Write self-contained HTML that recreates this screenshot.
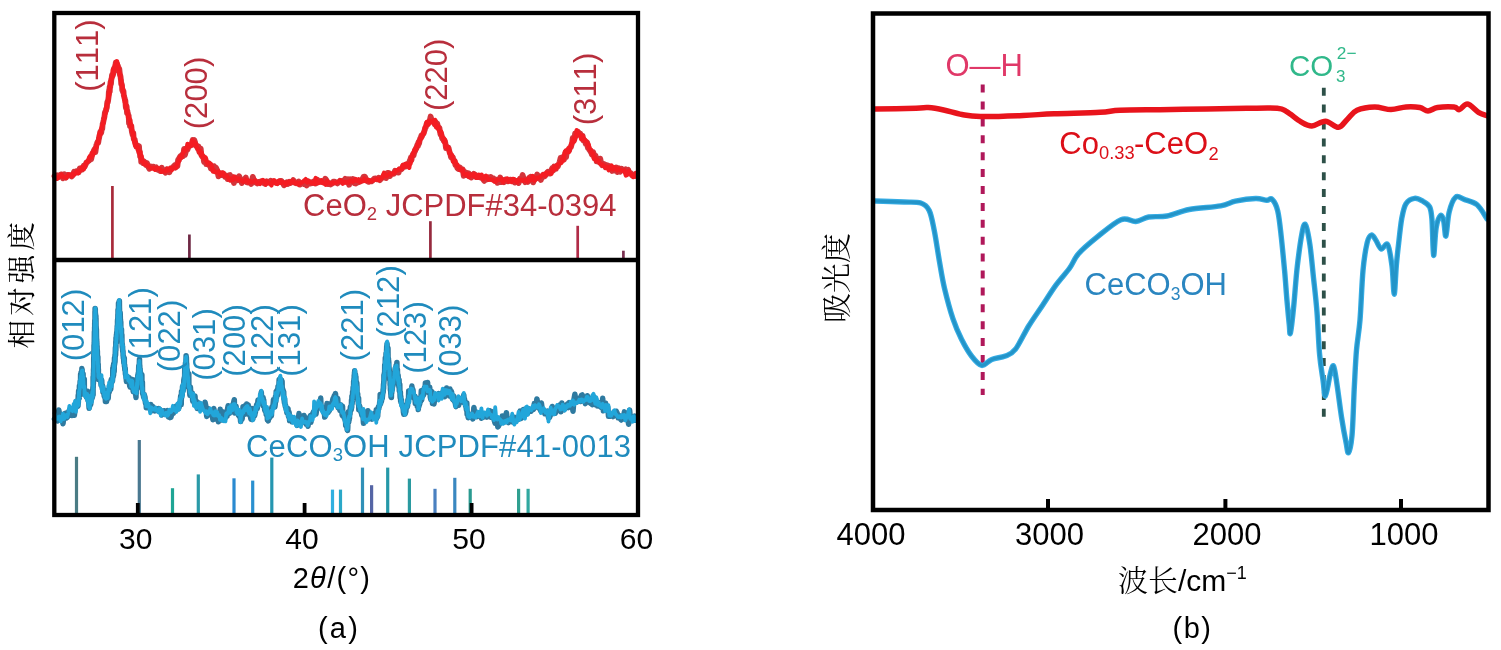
<!DOCTYPE html>
<html><head><meta charset="utf-8"><title>figure</title>
<style>html,body{margin:0;padding:0;background:#fff;width:1501px;height:650px;overflow:hidden}svg{display:block}</style>
</head><body>
<svg width="1501" height="650" viewBox="0 0 1501 650">
<rect width="1501" height="650" fill="#fff"/>
<line x1="112.4" y1="186" x2="112.4" y2="258" stroke="#a82a3a" stroke-width="2.7"/>
<line x1="189.4" y1="234.5" x2="189.4" y2="258" stroke="#6e2844" stroke-width="2.7"/>
<line x1="430.4" y1="221.2" x2="430.4" y2="258" stroke="#962a3e" stroke-width="2.7"/>
<line x1="577.7" y1="225.8" x2="577.7" y2="258" stroke="#b02c48" stroke-width="2.7"/>
<line x1="623.4" y1="250.7" x2="623.4" y2="258" stroke="#7a3050" stroke-width="2.7"/>
<line x1="76.5" y1="456.8" x2="76.5" y2="513" stroke="#4a7c84" stroke-width="3.2"/>
<line x1="139.3" y1="440" x2="139.3" y2="513" stroke="#4a7890" stroke-width="3.2"/>
<line x1="172.5" y1="488.2" x2="172.5" y2="513" stroke="#1fa595" stroke-width="3.2"/>
<line x1="198.3" y1="474.4" x2="198.3" y2="513" stroke="#2a9aa8" stroke-width="3.2"/>
<line x1="234" y1="478.3" x2="234" y2="513" stroke="#2a8ad0" stroke-width="3.2"/>
<line x1="252.7" y1="480.6" x2="252.7" y2="513" stroke="#2a90d0" stroke-width="3.2"/>
<line x1="271.8" y1="457.6" x2="271.8" y2="513" stroke="#2596b0" stroke-width="3.2"/>
<line x1="332.5" y1="489.6" x2="332.5" y2="513" stroke="#30b0e0" stroke-width="3.2"/>
<line x1="340.5" y1="489.6" x2="340.5" y2="513" stroke="#2aa8c8" stroke-width="3.2"/>
<line x1="362.5" y1="467.6" x2="362.5" y2="513" stroke="#3090b8" stroke-width="3.2"/>
<line x1="371.6" y1="485.2" x2="371.6" y2="513" stroke="#5565a5" stroke-width="3.2"/>
<line x1="387.7" y1="467.6" x2="387.7" y2="513" stroke="#2598a8" stroke-width="3.2"/>
<line x1="409.4" y1="478.6" x2="409.4" y2="513" stroke="#2a9aa0" stroke-width="3.2"/>
<line x1="435" y1="488.8" x2="435" y2="513" stroke="#4a80c0" stroke-width="3.2"/>
<line x1="454.8" y1="477.8" x2="454.8" y2="513" stroke="#3a88c0" stroke-width="3.2"/>
<line x1="470.2" y1="488.8" x2="470.2" y2="513" stroke="#2a9a90" stroke-width="3.2"/>
<line x1="518.6" y1="488.8" x2="518.6" y2="513" stroke="#30a090" stroke-width="3.2"/>
<line x1="528.1" y1="488.8" x2="528.1" y2="513" stroke="#30a8a0" stroke-width="3.2"/>
<polyline points="54.5,176.2 55.9,178.2 57.3,175.3 58.8,176.9 60.2,174.8 61.6,174.4 63,178.3 64.4,174.3 65.9,177.7 67.3,174.9 68.7,175.2 70.1,175.2 71.6,176.4 73,174.9 74.1,171.8 75.2,172.9 76.4,171.3 77.5,172.1 78.6,172.4 79.8,168.4 80.9,169.6 82,169.6 82.9,168.7 83.8,165.6 84.7,166.7 85.6,164.6 86.4,162.5 87.3,162.1 88.2,161.1 89.1,160.7 90,159 90.6,157 91.2,159.1 91.8,156.4 92.4,153.3 93,153.3 93.6,151.3 94.2,150 94.8,148.9 95.4,152.2 96,147.8 96.4,145 96.9,143.9 97.3,142.5 97.8,141.5 98.2,142.9 98.7,139.6 99.1,138 99.6,135.2 100,134.1 100.3,131.7 100.7,132.5 101,132.9 101.3,132.4 101.7,129.2 102,129.3 102.3,128.6 102.7,123.4 103,123.3 103.3,121.9 103.7,120 104,117.9 104.3,117.5 104.6,115.5 104.9,112.4 105.1,112.8 105.4,111.5 105.7,110.8 106,110.9 106.3,109.1 106.6,108.4 106.9,107.2 107.1,103.6 107.4,101.7 107.7,102.6 108,101.1 108.2,100 108.4,98.3 108.6,96.8 108.8,92 109,94.1 109.2,89.8 109.4,92.6 109.6,87.1 109.8,91.5 110,85.9 110.2,87.6 110.4,83.5 110.6,81.9 110.8,81.3 111,84.1 111.3,79.5 111.7,78.1 112,75 112.3,75.4 112.7,75.6 113,73.3 113.3,74 113.7,69.4 114,68.4 114.6,68.1 115.2,67.5 115.8,62.4 116.4,65.3 117,63.5 117.3,65.8 117.7,66.7 118,66 118.3,69.5 118.7,71 119,70.1 119.3,68.8 119.7,72.5 120,75.4 120.2,75.1 120.5,76.4 120.8,79.1 121,80.1 121.2,83.9 121.5,83.6 121.8,84.4 122,85.4 122.2,89.8 122.5,88.8 122.8,91.7 123,91.6 123.3,90.8 123.5,91.4 123.8,95.5 124.1,95.7 124.3,97.5 124.6,98.1 124.9,99.7 125.1,99.9 125.4,100.9 125.7,106 125.9,107.9 126.2,106 126.5,106 126.7,107.3 127,112.9 127.3,110.5 127.7,113.1 128,114.2 128.3,114.8 128.7,115.8 129,123.1 129.3,119.8 129.7,120.3 130,126 130.3,125.7 130.7,126.5 131,126.6 131.3,125.7 131.7,130.3 132,132.2 132.3,133.4 132.7,135.1 133,133.7 133.3,133 133.7,138.6 134,139.5 134.3,140 134.7,139.5 135,141.8 135.7,143.9 136.3,146.5 137,146.4 137.7,146.4 138.3,149.4 139,146 139.4,152.2 139.8,151.3 140.1,156.3 140.5,155.8 140.9,156.7 141.2,161.8 141.6,158.8 142,162.1 143,163 144,161.4 145,163.7 146,165 147,163 148,166.3 149.4,168.7 150.9,166.4 152.3,166.9 153.6,166.7 155,168.2 156.3,167.4 157.7,169.8 159,170.2 160.3,171 161.7,167.7 163,170.5 164.3,170.9 165.6,172.7 166.9,169.3 168.2,170.7 169.4,172.2 170.7,168.7 172,168.2 173.3,166.8 174.6,165.3 175.3,167.7 176,165.2 176.7,163.9 177.4,166.3 178.1,159.7 178.7,160.7 179.4,157.7 180.1,156.6 180.8,157.5 181.5,155.2 182.4,154.5 183.2,156.2 184.1,148.8 184.9,154.9 185.8,151.8 186.7,148.5 187.5,149.6 188.4,146.8 189.2,145.9 190.1,145.7 190.9,145.5 191.8,143.3 192.7,140 193.5,141.7 194.2,139.9 194.9,141.7 195.7,145.6 196.4,146.1 197.1,145.7 197.8,148.5 198.6,146.5 199.3,152 200,149.9 200.7,148.6 201.4,155.1 202.1,156.4 202.8,156.2 203.4,157.7 204.1,162 204.8,158.5 205.5,159.1 206.2,164 206.9,163 207.9,164.3 208.9,165 209.9,164.1 210.9,168.5 212,168.9 213,169.7 214,166.1 215,170.8 216,167.8 217.3,170.5 218.5,176.4 219.8,174.6 221.1,175 222.4,173.3 223.6,173.7 224.9,176.7 226.2,175.9 227.5,179 228.7,175.3 230,175 231.3,178.3 232.6,177 233.9,183 235.3,177.5 236.6,177.7 237.9,180.2 239.2,176.3 240.5,179.5 241.8,183 243.1,180.1 244.5,179.6 245.8,177.5 247.1,182.4 248.4,182.6 249.8,181.5 251.3,183.9 252.8,176.9 254.2,181.2 255.7,182.5 257.1,183.4 258.6,181.8 260,182 261.3,181.1 262.7,182.2 264,183.3 265.3,184 266.7,181.3 268,182.6 269.3,182.3 270.7,180.7 272,181.9 273.3,181.1 274.7,181.7 276,182.9 277.3,183 278.7,182.2 280,180.8 281.3,180.8 282.7,182.5 284,185.3 285.3,183.9 286.7,182.4 288,183.9 289.3,181.7 290.7,182.9 292,182 293.3,180.1 294.7,182.6 296,183.3 297.3,182.8 298.7,181.5 300,184.6 301.3,183.2 302.7,183.4 304,184 305.3,183.9 306.7,185.4 308,181.1 309.3,181.9 310.7,183.5 312,183.2 313.3,181.6 314.7,181.3 316,183.4 317.3,179.8 318.7,181.3 320,181.4 321.3,181.9 322.7,182.2 324,182.6 325.3,178.7 326.7,180.7 328,184 329.3,183 330.7,184.4 332,183.5 333.3,181.7 334.7,181.7 336,182.3 337.3,183.4 338.7,182.4 340,180.8 341.3,181.4 342.6,180.6 343.9,181.2 345.2,178.8 346.5,180.5 347.8,179.4 349.1,184.7 350.4,179.3 351.7,181 353,179 354.3,183.1 355.7,183.5 357,182 358.3,182.3 359.6,181.8 360.9,181.2 362.2,179.6 363.5,176.9 364.8,176.6 366.1,179.3 367.4,181.2 368.7,181.9 370,181 371.4,181.4 372.9,180.2 374.3,178.5 375.7,178.3 377.1,179.3 378.6,177.8 380,180.1 381.2,178 382.5,177.9 383.8,175.5 385,177.5 386.2,178 387.5,172.9 388.8,172.9 390,176.1 391.2,174.1 392.5,173.8 393.8,173.8 395,170.7 396.2,171.1 397.4,172.5 398.6,172.7 399.7,169.3 400.9,169.6 402.1,168.5 403.3,165.5 404.5,166.7 405.6,166.6 406.8,164.2 408,165.1 409.2,163.5 409.7,160.8 410.3,160.9 410.8,157.8 411.4,160.2 411.9,157.5 412.5,155.3 413,154.1 413.6,155.3 414.1,152.9 414.7,151.7 415.2,150.8 415.8,148.4 416.3,148.6 416.9,146.1 417.4,144.6 418,146 418.5,141.8 419.1,143.6 419.6,140.8 420.2,138.4 420.7,138.2 421.3,135.8 421.9,136.3 422.4,135.1 423,134 423.6,133.5 424.1,131.7 424.7,130.1 425.2,127.8 425.8,127.3 426.6,123.8 427.4,124.7 428.2,122.8 429,121.5 429.8,120.3 430.6,116.5 431.4,119.3 432.2,120.4 433,121.2 433.9,122 434.7,124.3 435.5,121.9 436.3,126 437.2,123.5 438,126.9 438.8,128.8 439.4,127.7 439.9,131.1 440.5,134.6 441,133.2 441.6,135.3 442.1,138.4 442.7,139 443.2,138.4 443.8,141.1 444.3,141.4 444.9,141.1 445.4,143.4 446,148.2 446.6,146.5 447.3,148.4 447.9,148 448.5,147.8 449.1,150.3 449.8,153.1 450.4,154.2 451,157.3 451.6,155.6 452.3,157.6 452.9,157.4 453.5,161.1 454.1,161.4 454.8,161.1 455.4,165.1 456.3,164.7 457.2,167.8 458.2,169 459.1,168.4 460,167.5 460.9,168.9 461.8,170 462.8,169.6 463.7,175.8 464.6,173.9 465.9,172.5 467.2,175.3 468.5,173.2 469.9,174.8 471.2,177.6 472.5,176.4 473.8,173.8 475.1,174.7 476.4,177.1 477.7,177 479.1,176.5 480.4,177.5 481.7,177.5 483,179 484.3,180.9 485.6,179.5 487,179.3 488.3,177.3 489.6,178.7 490.9,177 492.2,179.3 493.6,178.6 494.9,180.6 496.2,179.7 497.5,182.8 498.9,181.3 500.2,177.5 501.5,182.1 502.8,179.9 504.1,182.1 505.5,179.5 506.8,180.7 508.1,181.3 509.4,179.9 510.8,179.6 512.1,180.7 513.4,181.1 514.7,182.5 516,181.2 517.4,180.7 518.7,183 520,178.7 521.3,179.2 522.6,175.1 524,179.3 525.3,182.2 526.6,180 527.9,181.9 529.2,177.9 530.6,176.8 531.9,178.2 533.2,182.4 534.5,178.6 535.9,178.4 537.2,174.5 538.5,178.3 539.7,177.9 540.8,180 542,176.6 543.2,174.8 544.4,176.5 545.5,175.3 546.7,173.9 547.9,171.7 549.1,173.4 550.2,173.6 551.4,169.8 552.3,168.1 553.2,170.6 554.2,166.5 555.1,168.7 556,168.8 557,165.7 557.9,166.3 558.8,164 559.7,161.7 560.6,157.9 561.6,160.1 562.5,157.3 563.2,157.6 564,159.5 564.7,156.9 565.4,152.5 566.1,157.2 566.9,150.8 567.6,151.6 568.3,151 569.1,150.5 569.8,147.8 570.4,147.6 571,146.9 571.6,144.4 572.1,143 572.7,138 573.3,140.8 573.9,138.8 574.5,139.3 575.1,133.4 575.7,136.5 576.2,134.8 576.8,134.9 577.4,133.9 578,131.9 578.8,132.8 579.5,133.6 580.3,133.7 581.1,136 581.9,138.6 582.6,135.8 583.4,140.6 584.2,139.9 585,140.9 585.7,143.7 586.5,142 587.2,142.4 587.8,147.7 588.5,147.3 589.2,149.6 589.8,149.9 590.5,151.5 591.1,151.2 591.8,154.5 592.5,154.8 593.1,152 593.8,153.9 594.7,158.3 595.6,155.7 596.6,161.4 597.5,159.6 598.4,161.8 599.3,162.3 600.2,158.6 601.2,163.4 602.1,165.2 603,163.8 604.3,164.3 605.6,167.3 607,165.1 608.3,165.6 609.6,168.5 610.9,167.9 612.2,170.9 613.6,169.2 614.9,170.4 616.2,167.4 617.5,172 618.9,168.3 620.2,171.7 621.5,168.7 622.8,170.4 624.1,170.3 625.5,169.3 626.8,170.7 628.1,169.7 629.4,172.8 630.7,173.1 632,175.3 633.4,174.9 634.7,174.5 636,175.9" fill="none" stroke="#d4343a" stroke-width="5.8" stroke-linejoin="round" stroke-linecap="round"/>
<polyline points="54.5,176 55.9,178 57.3,178.7 58.8,177.1 60.2,176 61.6,174.6 63,176.9 64.4,177 65.9,178 67.3,176.3 68.7,174.5 70.1,174.6 71.6,176.2 73,173.8 74.3,174.4 75.6,172.8 76.9,171.5 78.1,173.2 79.4,171.4 80.7,170.1 82,167.4 82.9,168.8 83.8,169 84.7,166.1 85.6,163.9 86.4,162.3 87.3,162 88.2,160.6 89.1,157.6 90,156.1 90.7,156.1 91.3,157.1 92,153.2 92.7,155.2 93.3,151.4 94,152.9 94.7,149.4 95.3,148 96,146.7 96.4,147.2 96.9,145.1 97.3,142.8 97.8,142.5 98.2,140.6 98.7,139.2 99.1,134.8 99.6,133.4 100,132.3 100.4,134.8 100.7,132.3 101.1,130 101.5,128.4 101.8,127 102.2,125.5 102.5,125.4 102.9,124.4 103.3,123.5 103.6,119.9 104,119.3 104.3,118.7 104.6,116 104.9,114.1 105.2,113.5 105.5,113.6 105.8,108.5 106.2,107.1 106.5,106.3 106.8,107.5 107.1,104 107.4,103.1 107.7,102.1 108,100.9 108.2,100.5 108.4,95.3 108.6,97 108.9,94 109.1,92.6 109.3,95.4 109.5,90.5 109.7,89.1 109.9,87.3 110.1,87.4 110.4,85 110.6,83.1 110.8,81.6 111,78.8 111.4,79.3 111.8,78.3 112.1,77.4 112.5,76.9 112.9,69.9 113.2,75 113.6,70.9 114,70.4 114.8,65.3 115.5,66 116.2,62.4 117,61.3 117.4,66.1 117.8,63.9 118.1,67.6 118.5,67.6 118.9,72.3 119.2,71.7 119.6,73.4 120,73.8 120.3,76.2 120.5,78.6 120.8,79.4 121.1,81.2 121.4,84 121.6,83 121.9,86.2 122.2,85.9 122.5,89.1 122.7,87.9 123,90.2 123.3,91.7 123.6,92.8 123.9,96.2 124.1,97 124.4,99.2 124.7,102.1 125,101.9 125.3,101 125.6,105.6 125.9,107 126.1,104.7 126.4,107.6 126.7,109.8 127,110.7 127.4,111.3 127.7,112.9 128.1,117.9 128.5,116.1 128.8,116.7 129.2,118.3 129.5,119.1 129.9,120.7 130.3,124.5 130.6,123.3 131,126.8 131.4,125.7 131.7,130.1 132.1,130.8 132.5,131.5 132.8,134.3 133.2,133.1 133.5,136.1 133.9,139 134.3,141.7 134.6,142.9 135,145.2 135.7,141.9 136.3,147.1 137,146.3 137.7,146.8 138.3,150.5 139,152.6 139.4,153.4 139.9,154.2 140.3,152 140.7,158.4 141.1,155.4 141.6,157.3 142,161.3 143.2,161.3 144.4,164.2 145.6,163.1 146.8,165.1 148,165.3 149.4,167.2 150.9,168.2 152.3,168.6 153.6,167.8 155,169.8 156.3,168.2 157.7,168.6 159,168.4 160.3,169.5 161.7,171.8 163,171 164.4,171.2 165.9,171.4 167.3,168.9 168.8,170.3 170.2,167.9 171.7,170.2 173.2,167.7 174.6,167.2 175.4,166.3 176.1,167.6 176.9,164.4 177.7,163.8 178.4,161.3 179.2,160.8 180,157.2 180.7,156.4 181.5,157.3 182.4,154.3 183.2,153.2 184.1,150.3 184.9,151.3 185.8,148.7 186.7,149 187.5,144 188.4,147.3 189.4,144.5 190.4,146.1 191.5,145.6 192.5,140.5 193.5,142.4 194.3,142 195.1,144.4 195.9,143.8 196.8,147.4 197.6,148.2 198.4,149.7 199.2,151.7 200,150.8 200.8,154.8 201.5,152.8 202.3,155.2 203.1,158.3 203.8,157.2 204.6,158.6 205.4,157.3 206.1,160.5 206.9,162.5 207.9,164.3 208.9,162.5 209.9,165 210.9,164.4 212,167.3 213,171.5 214,170.4 215,172 216,171.9 217.4,172.6 218.8,171.5 220.2,175.2 221.6,172.9 223,172.7 224.4,176 225.8,175.6 227.2,176.3 228.6,178.6 230,180.4 231.4,178.5 232.8,179.9 234.2,176.8 235.7,178.2 237.1,179.4 238.5,178.5 239.9,180 241.3,180.4 242.7,181.8 244.2,181.6 245.6,179.4 247,180.5 248.4,182.5 249.8,181 251.3,182.3 252.8,181.9 254.2,181.1 255.7,180.6 257.1,183.1 258.6,182.7 260,183.9 261.4,181.1 262.9,180.1 264.3,181.2 265.7,184.4 267.1,181.5 268.6,183 270,183.3 271.4,185.4 272.9,180.8 274.3,180.4 275.7,183.2 277.1,183.9 278.6,180.9 280,181.1 281.4,182.9 282.9,181.9 284.3,183 285.7,184.7 287.1,182.4 288.6,181.8 290,183.1 291.4,181.3 292.9,180.8 294.3,183 295.7,183.4 297.1,182.6 298.6,184.6 300,182.6 301.4,182.8 302.9,181.7 304.3,180.6 305.7,179.2 307.1,182.4 308.6,181.3 310,182 311.4,183 312.9,182.7 314.3,183.8 315.7,178.1 317.1,183 318.6,183 320,182.5 321.4,180.2 322.9,183 324.3,183.2 325.7,184.7 327.1,181 328.6,182.8 330,183.3 331.4,183.5 332.9,182.5 334.3,183.3 335.7,182.8 337.1,182.2 338.6,181.6 340,180.4 341.4,180.9 342.9,183.6 344.3,181.9 345.7,182.7 347.1,181.9 348.6,182.7 350,181.1 351.4,180.5 352.9,181.7 354.3,180.4 355.7,179 357.1,180.8 358.6,179.4 360,181.9 361.4,180.7 362.9,181.1 364.3,178.5 365.7,181 367.1,180.5 368.6,179.9 370,181.6 371.4,180.8 372.9,180.5 374.3,180 375.7,179.5 377.1,178.7 378.6,180 380,178.4 381.4,178.4 382.7,176.5 384.1,172.8 385.5,176.2 386.8,176.2 388.2,174.8 389.5,173.6 390.9,174.6 392.3,173.7 393.6,173.1 395,172.3 396.3,170.5 397.6,170.6 398.9,169 400.2,169.4 401.5,168.7 402.7,165.3 404,167 405.3,163.9 406.6,164 407.9,165.2 409.2,167.7 409.8,163.5 410.4,163.8 411.1,160.8 411.7,156.6 412.3,156.1 412.9,154.1 413.5,153.5 414.2,150.1 414.8,149.9 415.4,150.1 416,147.9 416.6,147.5 417.3,145.7 417.9,144.2 418.5,142.9 419.1,141.2 419.7,141.2 420.3,138.6 420.9,138.3 421.5,138.3 422.1,135.1 422.8,134.2 423.4,132.5 424,133.5 424.6,129 425.2,127 425.8,126.4 426.7,122.1 427.7,122.7 428.6,124.4 429.5,120.7 430.5,121.7 431.4,122.3 432.3,121.6 433.2,120.6 434.2,123.4 435.1,119.9 436,127 436.9,127.7 437.9,125.6 438.8,128 439.4,131 440,131.1 440.6,133.4 441.2,131.6 441.8,135.1 442.4,136.9 443,138.5 443.6,138.5 444.2,142.1 444.8,139.4 445.4,143.9 446,147 446.7,146.7 447.3,148.1 448,147.4 448.7,148.9 449.4,153 450,152 450.7,154.7 451.4,156.1 452,155.4 452.7,159.2 453.4,161.8 454.1,162.5 454.7,160.5 455.4,161.9 456.4,165.5 457.4,164.8 458.5,167.8 459.5,168.2 460.5,170.3 461.5,169.4 462.6,169.7 463.6,174 464.6,173.8 466,175 467.4,173.9 468.8,177 470.3,174.8 471.7,174.5 473.1,175.9 474.5,174.2 475.9,177.7 477.3,177.7 478.8,174.8 480.2,177.4 481.6,174.8 483,179.2 484.4,176.7 485.8,175.7 487.3,178.2 488.7,179.7 490.1,179.3 491.5,179.6 493,179.9 494.4,181.6 495.8,181.5 497.2,180 498.7,179.6 500.1,179.8 501.5,178.9 502.9,182.2 504.3,180.4 505.8,179.3 507.2,178.5 508.6,181.5 510,179.8 511.5,181.9 512.9,179 514.3,179.2 515.7,181.4 517.2,182.3 518.6,179.8 520,180.4 521.4,179.8 522.8,180.8 524.3,179.8 525.7,180.5 527.1,181.6 528.5,178.3 530,180.3 531.4,179.8 532.8,176 534.2,180.6 535.7,179.6 537.1,177.6 538.5,177.8 539.8,177.2 541.1,176.1 542.4,174.9 543.7,174.1 545,175.6 546.2,172.7 547.5,173.5 548.8,172.7 550.1,172.9 551.4,173.7 552.4,168.9 553.4,170 554.4,166.5 555.4,168.8 556.4,167.7 557.5,164.9 558.5,164.4 559.5,163.7 560.5,162.1 561.5,162.7 562.5,158.8 563.3,160.5 564.1,155.7 564.9,152.4 565.7,150.8 566.6,152.4 567.4,152 568.2,148.6 569,152.1 569.8,148.7 570.4,147.7 571.1,144.1 571.7,144.6 572.3,141.1 573,141.9 573.6,138.4 574.2,141.6 574.8,139.3 575.5,136.2 576.1,136.4 576.7,130.2 577.4,134.4 578,132.1 578.9,133.4 579.7,134.9 580.5,135.7 581.4,139.3 582.2,135.7 583.1,137.7 584,138.8 584.8,141 585.6,140.6 586.5,141.7 587.2,144 588,145.8 588.7,144.7 589.4,148.7 590.1,149.6 590.9,149.6 591.6,152.5 592.3,153.8 593.1,153.5 593.8,158.5 594.8,157 595.8,160.5 596.9,159.4 597.9,161.2 598.9,161 599.9,163.5 601,164 602,164.3 603,165.8 604.4,165.6 605.8,167.8 607.3,166.8 608.7,170.1 610.1,169 611.5,165.6 613,169.5 614.4,167.3 615.8,168.6 617.2,170.4 618.7,168.7 620.1,170.1 621.5,170.5 623,170.6 624.4,170.3 625.9,175.4 627.3,174.8 628.8,171 630.2,173.3 631.6,174.9 633.1,177.1 634.5,176.7 636,172.9" fill="none" stroke="#f41c22" stroke-width="4.4" stroke-linejoin="round" stroke-linecap="round"/>
<polyline points="54.5,419 55.6,420.2 56.6,417.5 57.7,420.8 58.8,410 59.8,415.7 60.9,419.7 61.9,417.2 63,423.7 63.9,416.9 64.8,413.6 65.7,413.2 66.6,418 67.5,417 68.3,412.8 69.2,410.6 70.1,409.1 71,410.1 71.9,415.5 72.8,411.2 73.7,411.3 74.4,415.2 75.1,407.9 75.8,403.3 76.6,401 77.3,405.6 78,406 78.1,401.3 78.2,395.6 78.3,403.3 78.5,398.4 78.6,391 78.7,393.9 78.8,395.7 78.9,392.6 79,393.7 79.1,390.6 79.3,397.9 79.4,386.1 79.5,392.1 79.6,387.2 79.7,391.8 79.8,390.6 79.9,386.3 80.1,381.5 80.2,382.1 80.3,384.1 80.4,382.9 80.5,382.4 80.6,374.3 80.7,379.3 80.9,377.6 81,384 81.1,372.6 81.2,375.9 81.3,381.6 81.5,375.8 81.6,373.3 81.7,374.6 81.9,368.6 82,371.3 82.1,369.2 82.2,372 82.4,372.6 82.5,377.5 82.6,375.5 82.7,374.3 82.8,376 83,375.9 83.1,373.9 83.2,383.3 83.3,385 83.4,379.8 83.5,382.4 83.7,384.8 83.8,386.4 83.9,385.2 84,386.8 84.1,384.3 84.3,379.2 84.4,391.9 84.5,394.7 84.9,391.7 85.2,393.7 85.6,395.8 85.9,393.7 86.3,397.1 86.6,396.6 87,397.3 87.3,392.2 87.7,391.3 88,400.5 88.4,400.6 88.7,401.6 89.1,408.3 89.4,407.1 89.8,405.6 90,404.6 90.2,401.4 90.4,402.7 90.7,404.6 90.9,401.8 91.1,401.7 91.3,395.2 91.5,395.7 91.7,399 91.9,398.6 92.1,396.5 92.4,397.5 92.6,390.1 92.8,389.5 93,386.5 93,390.2 93.1,394.8 93.1,391 93.1,377.1 93.1,385 93.2,387.4 93.2,385.9 93.2,384.1 93.2,380.8 93.3,381.3 93.3,380.6 93.3,381.3 93.4,377.6 93.4,383.4 93.4,376.8 93.4,373.8 93.5,372.3 93.5,371.8 93.5,369.3 93.5,371.6 93.6,371.2 93.6,371.3 93.6,368.7 93.7,366.8 93.7,365.9 93.7,359.7 93.7,358.8 93.8,357.2 93.8,356.7 93.8,362.6 93.8,361.3 93.9,350.8 93.9,355.3 93.9,358.9 94,359.3 94,345.3 94,358.9 94,355.7 94.1,352.3 94.1,351.8 94.1,347.9 94.1,347 94.2,347.7 94.2,349.4 94.2,342.2 94.2,344.4 94.3,341.7 94.3,344.9 94.3,340.4 94.4,331.8 94.4,337.4 94.4,338.4 94.4,337 94.5,336.8 94.5,338.3 94.5,335.6 94.5,335.9 94.6,336.6 94.6,334.8 94.6,327.2 94.7,330.9 94.7,333.4 94.7,333.8 94.7,323.3 94.8,326.2 94.8,323.2 94.8,320.6 94.8,320.3 94.9,324.9 94.9,319.6 94.9,323.3 95,319 95,315.6 95,315.3 95,311.4 95.1,313.8 95.1,316.7 95.1,308.5 95.1,312.3 95.2,312.2 95.2,312.5 95.2,309.1 95.3,308.7 95.3,314.7 95.4,312.8 95.4,313.4 95.5,314 95.5,317.1 95.6,322.7 95.6,320.1 95.7,319.6 95.7,316.8 95.8,321.8 95.8,323.1 95.9,316 95.9,320.8 96,325.5 96,318.2 96.1,329.4 96.1,326.3 96.2,327.6 96.2,328.5 96.3,332 96.3,330.5 96.4,335.6 96.4,329.2 96.5,336.8 96.5,336.3 96.6,341 96.6,342.9 96.7,339.5 96.7,342.7 96.8,341.6 96.8,341.2 96.8,342.5 96.9,343 96.9,349.8 97,348.4 97,345.6 97.1,346.4 97.1,347.1 97.2,352.1 97.2,349.6 97.3,350.2 97.3,354.1 97.4,351.3 97.4,351.8 97.5,361.5 97.5,358.6 97.6,357.9 97.6,362.4 97.7,365 97.7,362.2 97.8,363.8 97.8,360.4 97.9,356.9 97.9,368 98,368.8 98,363.3 98.1,365.9 98.1,371.4 98.2,372 98.2,364.3 98.3,372.5 98.3,376.1 98.4,369.2 98.4,379.5 98.7,374.1 99,378.9 99.3,378.4 99.6,379.2 99.9,377.7 100.2,379.8 100.5,379.5 100.8,381.7 101.1,385.3 101.4,385.6 101.7,380.1 102,385.8 102.4,389.1 102.7,385.9 103,392.2 103.3,389 103.6,391.5 103.9,392.5 104.2,396.4 104.5,390 104.8,396.9 105.1,395.1 105.4,401.4 105.7,395 106,401.3 106.3,398.4 106.6,401.5 107,394.8 107.3,396.4 107.6,397.5 107.9,397.2 108.2,398.4 108.6,391 108.9,390 109.2,392.4 109.5,386.3 109.8,390.5 110.2,388.2 110.5,382.8 110.8,389.1 111.1,380.4 111.4,379.3 111.8,382.4 112.1,379.8 112.4,378.1 112.5,381.1 112.7,376.9 112.8,368.2 112.9,373 113,374.5 113.2,377 113.3,365.9 113.4,374.9 113.6,374.9 113.7,363.9 113.8,367.6 114,371.9 114.1,363.7 114.2,371.1 114.3,365.9 114.5,358.1 114.6,364.2 114.7,358.7 114.7,362.6 114.8,363 114.9,361.1 115,355 115,361.9 115.1,359.4 115.2,355.5 115.3,356.6 115.3,352.9 115.4,347.8 115.5,350.1 115.6,352.6 115.6,354.8 115.7,351.4 115.8,345.4 115.8,341.7 115.9,350.3 116,338.2 116.1,337.3 116.1,342.5 116.2,344.4 116.3,339.3 116.4,341.3 116.4,335 116.5,339.7 116.6,335.4 116.7,332.9 116.7,332.4 116.8,333.9 116.9,334 116.9,336.2 117,332.4 117.1,328.2 117.2,329.9 117.2,326.2 117.3,328.1 117.4,325.1 117.5,326.4 117.5,321.4 117.6,319.5 117.7,319.6 117.8,323.3 117.8,319.1 117.9,314.3 118,313.6 118,309.7 118.1,318.5 118.2,316.3 118.3,310.1 118.3,313.5 118.4,313.5 118.5,303.3 118.6,310.7 118.6,307.7 118.7,303.7 118.8,305.8 118.9,305.2 118.9,306.7 119,302.1 119.1,302.2 119.2,307.2 119.2,306.3 119.3,303.2 119.4,301 119.5,311 119.5,307.8 119.6,313.5 119.7,313.1 119.8,312.4 119.8,314.6 119.9,315.4 120,317.9 120,317.9 120.1,322.7 120.2,312.7 120.3,316.5 120.3,316.2 120.4,323 120.5,319.6 120.6,323.8 120.7,326.8 120.7,329.6 120.8,322 120.9,332.3 121,330.4 121,329.5 121.1,333.5 121.2,334.3 121.2,329.3 121.3,331.8 121.4,335.7 121.5,329.6 121.5,335.8 121.6,336.9 121.7,337.1 121.8,336.8 121.8,342.6 121.9,334.9 122,343.3 122.1,342.8 122.2,346.6 122.3,344.2 122.5,348.3 122.6,346.3 122.7,351.2 122.8,349.9 122.9,351.9 123,350.7 123.1,355.6 123.2,356 123.4,358.6 123.5,355.9 123.6,357 123.7,360.5 123.8,362 123.9,363.4 124,359.7 124.2,360.6 124.3,358.3 124.4,365.3 124.5,366.8 124.6,364.5 124.7,365.3 124.8,369.1 124.9,370.4 125.1,367.7 125.2,368.5 125.3,370.5 125.4,373.8 125.9,376 126.5,381.6 127,376.2 127.5,377.7 128.1,381.5 128.6,377.3 129.1,377.7 129.7,385.9 130.2,387 130.7,381.3 131.3,387.5 131.8,382.9 132.3,379.4 132.7,385.2 133.2,391.5 133.7,388.9 134.1,390.2 134.6,388.1 135.1,393.5 135.5,392.2 136,397.4 136.1,390.7 136.2,393.8 136.3,386.7 136.5,389.7 136.6,387.4 136.7,385.8 136.8,384.1 136.9,382.3 137,381.4 137.1,382.7 137.2,378.6 137.4,382.8 137.5,381.2 137.6,385 137.7,383 137.8,375.4 137.9,377.8 138,376.9 138.2,373.4 138.3,375.6 138.4,374.2 138.5,375.7 138.6,371.6 138.7,367.6 138.8,365.7 138.9,365.8 139.1,366.2 139.2,365.3 139.3,364.5 139.4,361.6 139.5,359.2 139.6,364.3 139.7,365.1 139.8,365.9 139.9,370.9 140,369.9 140.1,368.3 140.3,372 140.4,374.1 140.5,373.4 140.6,376.3 140.7,376.1 140.8,378 140.9,380.8 141,373.5 141.1,379.7 141.2,381.8 141.3,377.4 141.4,381.5 141.5,384 141.6,384.8 141.7,380.2 141.9,375 142,388.5 142.1,389.6 142.2,386.5 142.3,388.3 142.4,382.2 142.5,389.3 142.6,393.4 142.9,394.2 143.3,394.4 143.6,397.3 144,396.9 144.3,394.4 144.6,398.6 145,396.8 145.3,401.6 145.6,403.7 146,402.3 146.3,407.7 146.7,405.1 147,406.7 148,404.5 148.9,408.1 149.9,407.2 150.9,404.6 151.9,410.8 152.8,406.5 153.8,409.7 154.8,410.8 155.8,409.6 156.7,409.2 157.7,410.9 158.7,408.6 159.6,409.1 160.6,410.7 161.6,415 162.6,414.1 163.5,411 164.5,410.8 165.5,412.9 166.5,411.6 167.4,410.6 168.4,416.9 169.2,415.8 170.1,417.6 170.9,417.2 171.7,414.4 172.6,413.6 173.4,413.4 174.2,410 175,408.2 175.9,406.4 176.7,405.9 177.5,405.9 178.4,409 179.2,407.2 179.5,402.8 179.7,405.4 180,401.6 180.2,401.7 180.5,398.2 180.7,395.8 181,399.9 181.2,404.6 181.5,391.5 181.7,397.8 182,394.7 182.2,395.3 182.5,386.8 182.7,391.1 183,388.4 183.2,390.8 183.5,384.5 183.6,384.1 183.7,387.8 183.8,382.5 183.8,380.4 183.9,379.7 184,378.9 184.1,381.8 184.2,378.1 184.3,379.6 184.4,380.2 184.4,379.3 184.5,381.3 184.6,381.1 184.7,370.3 184.8,367.3 184.9,374.6 185,369.8 185.1,369.4 185.1,371.9 185.2,372.4 185.3,367.1 185.4,364.7 185.5,362.9 185.6,367.6 185.7,366.8 185.7,362.7 185.8,364.3 185.9,362.2 186,361.5 186.1,355.8 186.2,358.4 186.3,366.5 186.4,357.5 186.5,362.2 186.6,367.5 186.7,363.5 186.8,369.8 186.9,369.7 187,369.9 187.1,369.1 187.2,370.8 187.3,370.7 187.4,375.6 187.6,377.5 187.7,373.4 187.8,376 187.9,377.4 188,379.2 188.1,381.1 188.2,380.9 188.3,379.4 188.4,380.3 188.5,383.8 188.6,382.3 188.7,385.2 188.8,373.8 188.9,386 189,388 189.5,390.3 189.9,395.2 190.4,387 190.8,393.5 191.3,394.6 191.8,392.9 192.2,392.9 192.7,401.2 193.2,397.6 193.6,396.1 194.1,397.5 194.6,404.4 195,396 195.5,405.2 195.9,400.7 196.4,401.4 197.3,408.6 198.1,408.6 199,403 199.8,408.3 200.7,408.1 201.6,407.8 202.4,406.8 203.3,408.9 204.1,407.3 205,402.2 205.9,406.4 206.7,416.4 207.6,412.3 208.4,408.6 209.3,413.3 210.2,410.7 211.1,415.2 212,412.4 212.9,419.7 213.8,408.4 214.7,414.1 215.7,419 216.6,413.4 217.5,416.7 218.4,421.7 219.3,416.2 220.2,409.3 221.1,420 222,419.3 222.6,414.5 223.2,412 223.9,418.6 224.5,418.6 225.1,416.5 225.7,417.4 226.3,415.2 227,416.3 227.6,408.5 228.2,405.7 228.8,410 229.5,413.3 230.1,409.4 230.7,407 231.3,406.1 231.9,407.2 232.6,408 233.2,404.1 233.8,401.6 234.3,399.7 234.7,413 235.2,406.4 235.6,411.1 236.1,406.2 236.5,411.8 237,410.1 237.4,412.7 237.9,412.2 238.3,415.1 238.8,414.1 239.2,416.3 239.7,416.9 240.1,413.6 240.6,421.6 241,417.7 241.4,413.7 241.8,419.6 242.2,418.5 242.6,413.7 243,406.8 243.3,412.3 243.7,414.7 244.1,410.8 244.5,411.2 244.9,409.6 245.3,410.4 245.7,405 246.2,407.9 246.7,403.9 247.3,413.9 247.8,410.7 248.3,405 248.8,410.2 249.4,412.9 249.9,409.8 250.4,416.4 250.9,419.1 251.5,415.9 252,408.6 252.5,419.5 252.9,418.8 253.2,416.4 253.6,413.4 254,412.1 254.3,409 254.7,415.5 255.1,413.2 255.5,411.7 255.8,407.9 256.2,407.5 256.6,404.8 256.9,404.3 257.3,408.5 257.7,403.5 258,399.9 258.4,401.2 258.8,400 259.2,400.4 259.5,401.4 259.9,401.3 260.3,401.7 260.6,400.6 261,394.2 261.3,392.1 261.6,397.6 261.9,398.9 262.2,403.8 262.5,398.8 262.8,401.1 263.1,397.4 263.4,406 263.7,399.7 264,405.5 264.4,406.8 264.7,410.2 265,409.8 265.3,410.5 265.6,412 265.9,408.2 266.2,414.3 266.5,411.4 266.8,412.1 267.1,414.2 267.4,420 267.7,420.1 268.2,420.8 268.7,418.7 269.3,418.3 269.8,410.9 270.3,409.5 270.8,414.9 271.4,415.9 271.9,407.2 272.4,406.3 272.9,406.7 273.5,399.6 274,404.4 274.5,406.2 274.7,404.3 274.9,406.9 275.2,404.7 275.4,396.8 275.6,400.6 275.8,401.8 276,399.1 276.2,391.5 276.5,397.8 276.7,396.2 276.9,394.7 277.1,390.3 277.3,394.7 277.6,395.1 277.8,390.8 278,386.6 278.2,386.6 278.4,387.7 278.7,388.9 278.9,385.5 279.1,379.8 279.3,384.8 279.5,384.9 279.7,379 280,380.8 280.2,381.9 280.4,378.9 280.6,384.9 280.8,380.9 281,380.7 281.1,380.1 281.3,380.8 281.5,382.3 281.7,380.3 281.9,386.2 282.1,381.5 282.2,386.7 282.4,388.7 282.6,390.2 282.8,391.8 283,389.6 283.2,393.2 283.4,395 283.5,393.9 283.7,391.5 283.9,398.8 284.1,397.6 284.3,401.6 284.5,403.1 284.6,398.6 284.8,402.2 285,403.5 285.2,405.4 285.4,406.9 285.6,405.7 285.7,405.6 285.9,407.1 286.1,409.2 286.3,407.9 286.9,413 287.4,410 288,408.5 288.5,416.5 289.1,412.1 289.6,420.6 290.2,416.1 290.8,416.9 291.3,420.5 291.9,421.7 292.4,420.5 293,420.9 294,420.9 295,420.3 296,421.6 297,425.4 298,422.5 299,413.6 300,420.2 301,421.3 302,422.5 303,421.1 304,415.5 305,418.1 306,424.1 307,421.1 308,426.2 309,417.8 310,416.9 310.5,415.6 310.9,422.3 311.4,418.6 311.9,415.2 312.3,414.5 312.8,414.3 313.3,412.1 313.7,413.6 314.2,411.2 314.6,410.3 315.1,408.2 315.6,410.3 316,414.1 316.5,410.7 317,406.6 317.4,407.9 317.9,406.5 318.4,408.1 318.8,403 319.3,402.1 319.8,404.5 320.2,404.6 320.7,398.1 321.1,407.9 321.6,408.1 322,407.3 322.5,410.4 322.9,410.3 323.4,411.6 323.8,412.9 324.3,410.2 324.7,417 325.2,416.5 325.8,412.1 326.4,409.7 327,403.5 327.6,411.7 328.2,412.4 328.8,404.1 329.4,410.7 330,407.9 330.6,404.6 331.2,406.1 331.8,405.6 332.4,401.3 333,398.6 333.6,403.9 334.2,395.8 334.8,402 335.4,393.4 336,398.3 336.5,405.2 337.1,405.5 337.7,398.5 338.2,407.5 338.8,405.9 339.4,406.1 339.9,410.4 340.5,409.8 341.1,405.1 341.6,409.7 342.2,415.5 342.5,406.2 342.8,413.4 343.1,415.9 343.4,416.5 343.7,413.8 344,417.6 344.3,416.9 344.6,418.2 344.8,416.2 345.1,420.4 345.4,416.8 345.7,425.3 346,419.8 346.3,423 346.6,418.4 346.9,427 347.2,430.1 347.4,424.6 347.6,430.4 347.8,427.1 348,418.6 348.1,418.4 348.3,421.6 348.5,411.7 348.7,422.2 348.9,419.5 349.1,420.5 349.3,414.9 349.5,418.5 349.7,411.5 349.8,413.7 350,414.3 350.2,409.3 350.4,406.7 350.6,409.7 350.8,407.8 351,410.3 351.2,409.8 351.4,406.8 351.5,400.3 351.7,407.1 351.9,396.3 352.1,404.2 352.3,400.6 352.4,398 352.5,400.9 352.6,391.9 352.7,396.9 352.7,399.4 352.8,392.8 352.9,390.8 353,392.6 353.1,387.5 353.2,394.4 353.3,387.7 353.4,386.9 353.5,387.3 353.6,383.6 353.6,381.5 353.7,384.1 353.8,380.8 353.9,381.3 354,378.7 354.1,382.6 354.2,375.4 354.3,379.6 354.4,380.8 354.4,376.5 354.5,372.4 354.6,373.5 354.7,370.8 354.8,371.7 354.9,374.5 355,376.7 355.2,374.3 355.3,374 355.4,380.8 355.5,374.8 355.6,381 355.8,377.7 355.9,376.6 356,381.7 356.1,380.5 356.2,385.7 356.4,383.4 356.5,387.8 356.6,389 356.7,385.7 356.8,382.6 357,386.7 357.1,395.5 357.2,393.9 357.3,393 357.4,394.2 357.6,396.7 357.7,393.9 357.8,398.8 357.9,398.7 358,399.8 358.2,401.8 358.3,403.9 358.4,401.7 358.5,400.4 358.6,398.3 358.8,409.7 358.9,407.1 359,406.6 359.5,405.6 359.9,407.5 360.4,409.6 360.8,412 361.3,410.1 361.7,415 362.2,414.5 362.6,415.6 363.1,417.5 363.5,423.3 364,412.5 365,412 366,419.2 367,416.7 368,410.7 369,419 370,417.5 371,415.4 372,419.1 373,418.1 374,415.1 375,413.1 376,416.5 376.3,409.8 376.6,418.3 376.9,412.6 377.1,410 377.4,412.1 377.7,416.4 378,410 378.3,407.1 378.6,409 378.8,408.7 379.1,405.4 379.4,406.5 379.7,402 380,402.1 380.2,394.4 380.5,404 380.8,401.9 381.1,400.8 381.4,401.8 381.7,399 381.9,396.8 382.2,398.6 382.5,395.9 382.8,393.2 382.9,392 383,392.5 383.1,389.6 383.2,390.7 383.2,392.1 383.3,389.9 383.4,387.2 383.5,384.3 383.6,388.5 383.7,383.6 383.8,381.1 383.9,383.1 383.9,375.3 384,380.8 384.1,381.1 384.2,377.8 384.3,373.5 384.4,377.5 384.5,375.3 384.6,374.5 384.6,374.6 384.7,365 384.8,373.8 384.9,369.3 385,367.7 385.1,370.2 385.2,369.1 385.2,365 385.3,357.9 385.4,361.9 385.5,363.1 385.6,361.2 385.7,358.5 385.8,363.8 385.9,357 385.9,359.4 386,353.5 386.1,358.8 386.2,356.5 386.3,356 386.4,356.3 386.5,352 386.6,349.1 386.6,350.5 386.7,346.4 386.8,353.1 386.9,349.5 387,344.3 387.1,343.7 387.2,348.7 387.3,352 387.4,352.9 387.4,349.9 387.5,347.5 387.6,348.3 387.7,355.5 387.8,357.6 387.9,355.5 388,348.3 388.1,358.6 388.1,364 388.2,358.8 388.3,361.5 388.4,358.2 388.5,360.7 388.6,361 388.7,361 388.8,369.1 388.8,362.3 388.9,366.3 389,366.9 389.1,368.6 389.2,368.7 389.3,372.8 389.4,377 389.4,371.5 389.5,371.2 389.6,375.9 389.7,379.6 389.8,376 389.9,376 390,376.9 390.1,375.1 390.1,384.8 390.2,381.7 390.3,381 390.4,389.4 390.5,390.7 390.6,387.1 390.7,388.2 390.8,394 390.8,393.9 390.9,390.7 391,396.8 391.1,385.9 391.2,391.7 391.4,397.5 391.6,388.4 391.7,393.3 391.9,390.2 392.1,389.4 392.3,389.8 392.5,385.9 392.7,384.9 392.8,381.8 393,385.9 393.2,378.5 393.4,383.4 393.6,382 393.8,380.4 393.9,380.4 394.1,379.3 394.3,375.3 394.5,372.4 394.7,374.1 394.8,376.6 395,369.6 395.2,368.2 395.4,373.8 395.6,370.9 395.8,373.2 395.9,369.1 396.1,365.4 396.3,365.7 396.4,364.7 396.6,365.1 396.7,366.5 396.9,362.5 397,369.8 397.1,377.9 397.3,372.1 397.4,369 397.6,375.3 397.7,375.8 397.9,381.9 398,377.5 398.1,375 398.3,378.5 398.4,380.3 398.6,384.8 398.7,381.6 398.9,386.8 399,384.5 399.1,379.9 399.3,390.8 399.4,383.6 399.6,389.2 399.7,386.9 399.8,384.6 400,394.3 400.1,396.8 400.3,398.3 400.4,392.3 400.5,398.4 400.7,401.6 400.8,396.6 401,402.1 401.1,399.3 401.3,402.7 401.4,399.5 401.7,403.2 402.1,403.8 402.4,405.9 402.8,407.3 403.1,407.3 403.4,412 403.8,414.2 404.1,408.5 404.5,407.6 404.8,411.5 405.1,413.9 405.4,413.2 405.6,407.6 405.9,411.9 406.2,405.6 406.5,408.2 406.8,405.1 407,407 407.3,406.9 407.6,405.4 407.9,399.7 408.1,399.2 408.4,402 408.7,391 409,393 409.3,396.1 409.5,392.2 409.8,392.7 410.1,395.3 410.4,396.3 410.7,396.5 410.9,394.3 411.2,390 411.5,389.1 411.9,386.1 412.3,394.7 412.6,388.8 413,390 413.4,396.9 413.8,398 414.1,396.1 414.5,397.9 414.9,396.2 415.3,403.4 415.7,400.3 416,397.8 416.4,403.6 416.8,398.7 417.2,406.2 417.5,405.1 417.9,402 418.3,409.5 418.6,404.5 419,406.4 419.3,399.8 419.7,404.4 420,399.3 420.3,399.5 420.7,401.3 421,397.3 421.3,390.8 421.7,400 422,396.3 422.4,393.4 422.7,396.3 423,395.4 423.4,391.6 423.7,394.8 424,389.3 424.4,387.6 424.7,388.4 425.1,388.2 425.4,382.9 425.9,386.8 426.5,384.2 427,386.4 427.6,382.4 428.1,392.4 428.7,392.6 429.2,390.6 429.7,387.2 430.3,397.1 430.8,399.5 431.4,392.8 431.9,391.5 432.5,403.4 433,393.9 434,403.9 434.9,397.5 435.9,397.1 436.9,397.7 437.9,398.3 438.9,393.6 439.8,394.7 440.8,395.1 441.8,395.3 442.7,392.7 443.7,390 444.6,396.7 445.6,393 446.6,388 447.5,390.8 448.5,393.6 449,394.1 449.5,396 450,389.1 450.5,391.5 451,391.6 451.5,391.6 452,395.5 452.5,399.1 453,399.9 453.5,395.8 454,396.7 454.5,401.7 455,398.6 455.5,404.5 456,406.6 456.9,403.3 457.7,402.4 458.6,405.3 459.5,401.2 460.3,401.3 461.2,398.6 462.1,400.4 462.9,402.2 463.8,394.9 464.1,398.9 464.4,398.6 464.6,400.7 464.9,403.5 465.2,401.2 465.5,404.8 465.7,406.3 466,405.5 466.3,408.9 466.6,410.3 466.8,403.1 467.1,414.2 467.4,412.2 467.7,412.5 467.9,415 468.2,417.7 468.5,414.9 469.6,416.2 470.6,416.4 471.7,415.1 472.8,418.9 473.9,407.4 474.9,416.4 476,412 477.1,416.6 478.1,413.1 479.2,415.2 480.3,414.7 481.4,418.2 482.5,414.5 483.7,417.1 484.8,415.9 485.9,414.8 487,417.1 487.9,415.3 488.8,414.6 489.7,410.7 490.6,417.2 491.5,411.4 492.4,413.5 493.3,415.4 494.2,420.3 495.1,423.3 496,417.5 496.9,418.9 497.8,427 498.7,426 499.6,418.8 500.5,423.4 501.4,422.5 502.3,415.9 503.3,418.9 504.4,422.2 505.4,419 506.4,412.7 507.4,420.5 508.5,422.5 509.5,419.4 510.5,420.8 511.5,418.7 512.6,422 513.6,417.7 514.6,417.4 515.6,419.6 516.7,420.2 517.7,417.8 518.5,419.3 519.4,416.7 520.2,411 521,418.4 521.9,417.8 522.7,415.3 523.5,409.4 524.4,411.7 525.2,410.7 526,414.3 526.9,409.8 527.7,413.3 528.5,408.8 529.3,411.4 530.2,409.7 531,411.2 531.8,410.1 532.7,408.5 533.5,409.3 534.3,403.6 535.2,407.3 536,405.4 536.9,398.9 537.8,403.5 538.7,407.9 539.6,406.2 540.5,410.3 541.4,403.1 542.2,409.2 543.1,409.2 544,411 544.9,413.8 545.8,411.6 546.7,413.3 547.6,411 548.5,417.7 549.5,417.6 550.4,415.3 551.4,410.3 552.3,406.5 553.3,411.9 554.2,409.4 555.2,413.3 556.1,411.4 557.1,407.5 558.1,407.1 559,405.8 560,404.9 560.9,411.8 561.9,402.9 562.8,409.4 563.8,409.8 564.7,408.9 565.6,407.5 566.6,405.5 567.5,403.9 568.4,407.6 569.3,402.6 570.3,406.8 571.2,407.1 572.1,403.9 573,411.2 574,399.2 574.9,394.3 575.8,401.9 576.8,402.1 577.7,398.4 578.6,401.2 579.5,398 580.4,401.5 581.4,395.5 582.3,395 583.3,399.8 584.3,398.7 585.4,403.6 586.4,401 587.4,395.7 588.5,399.5 589.5,402.4 590.5,403.3 591.5,398.4 592.5,404.7 593.6,396.4 594.6,404.4 595.3,398.2 596.1,405.1 596.8,402.4 597.5,405.9 598.3,402.6 599,402.7 599.7,405.3 600.5,406.9 601.2,407.5 601.9,405.4 602.7,398.3 603.4,410.8 604.1,408 604.9,404.4 605.6,403.2 606.3,409.1 607.1,406.2 607.8,407.3 608.5,416.3 609.3,415.1 610,416.2 611,414 612.1,414.7 613.1,416.5 614.1,415.3 615.1,414.8 616.2,411.2 617.2,413.3 618.2,417.8 619.2,415.6 620.3,418.8 621.3,420 622.3,419 623.3,418.2 624.4,411.9 625.4,418 626.5,417.5 627.5,416 628.6,424.2 629.6,409.9 630.7,420.9 631.8,419.2 632.8,418 633.9,420.2 634.9,416.1 636,420.2" fill="none" stroke="#2e7aa0" stroke-width="5.5" stroke-linejoin="round" stroke-linecap="round"/>
<polyline points="54.5,413.2 55.7,416.4 56.9,418.9 58.1,418.4 59.4,416.5 60.6,421.4 61.8,418.5 63,413.6 64.1,419 65.1,415.3 66.2,415 67.3,417 68.3,413.1 69.4,405.9 70.5,409.8 71.6,409.4 72.6,411.2 73.7,403.9 74.4,410.1 75.1,400.8 75.8,411.9 76.6,406.9 77.3,402.1 78,405.8 78.1,400.7 78.3,403.9 78.4,398.3 78.5,398.9 78.6,405 78.8,401.3 78.9,391.8 79,398.1 79.2,393.1 79.3,393.4 79.4,389.6 79.5,389.9 79.7,389.7 79.8,388.9 79.9,386.3 80,381.3 80.2,387.4 80.3,379.3 80.4,379.9 80.6,381.6 80.7,380.4 80.8,376.8 80.9,375.8 81.1,380.3 81.2,376.4 81.4,374.6 81.5,372.8 81.7,373.6 81.8,371.1 82,370.7 82.1,372.3 82.3,373.3 82.4,370.4 82.5,376.1 82.7,373.4 82.8,379.7 82.9,379.9 83.1,376.4 83.2,377.7 83.3,381.2 83.4,380.5 83.6,383.6 83.7,387.5 83.8,386.8 84,386.1 84.1,387.1 84.2,386.9 84.4,386.5 84.5,395.4 84.9,391.7 85.3,394.5 85.6,395.8 86,397.5 86.4,396.5 86.8,399 87.2,393.9 87.5,401.2 87.9,398.4 88.3,404.1 88.7,406.5 89,406.4 89.4,399.3 89.8,408.7 90,402.1 90.3,400.7 90.5,403.8 90.8,395.3 91,399.6 91.3,401.1 91.5,395.6 91.8,402.3 92,396.4 92.3,392 92.5,392.4 92.8,396.8 93,389.1 93,389.8 93.1,386.7 93.1,387 93.1,381.7 93.2,384.6 93.2,381.2 93.2,383.1 93.2,382.6 93.3,379.1 93.3,380.6 93.3,376.9 93.4,378.8 93.4,372 93.4,374.3 93.5,379.8 93.5,374.7 93.5,373.3 93.5,372.3 93.6,377 93.6,371.1 93.6,363.6 93.7,363.7 93.7,361.7 93.7,367.8 93.8,362.8 93.8,361.6 93.8,360 93.8,355.3 93.9,360.2 93.9,359.8 93.9,353.4 94,351.3 94,352.7 94,352.3 94.1,354.1 94.1,350.2 94.1,351 94.1,350.9 94.2,348.5 94.2,345 94.2,345.9 94.3,347.2 94.3,341.9 94.3,341.2 94.4,341.7 94.4,337.8 94.4,339.2 94.4,340.1 94.5,339.6 94.5,336.4 94.5,336.8 94.6,335.8 94.6,333.7 94.6,332.7 94.7,332.5 94.7,329 94.7,330.3 94.7,325.6 94.8,323.7 94.8,322.6 94.8,323.3 94.9,324.7 94.9,319.6 94.9,319.2 95,315.4 95,318.1 95,319.5 95,314.1 95.1,314.3 95.1,311.7 95.1,314.3 95.2,311.7 95.2,314.4 95.3,308.2 95.3,311.1 95.4,310.6 95.4,316.6 95.5,310.2 95.5,318 95.6,315.9 95.6,319.2 95.7,318.5 95.7,325.1 95.8,323.2 95.8,319.1 95.9,324.7 95.9,325.6 96,322.4 96.1,325.7 96.1,321.8 96.2,330.1 96.2,327.6 96.3,331.1 96.3,333.2 96.4,335.2 96.4,332.7 96.5,337.7 96.5,337.7 96.6,339.2 96.6,338.7 96.7,341.1 96.7,344 96.8,342.1 96.9,342.7 96.9,341.7 97,348 97,348.8 97.1,349.8 97.1,347.4 97.2,350.3 97.2,347.9 97.3,356.1 97.3,355 97.4,356.6 97.4,356.3 97.5,358 97.5,360.2 97.6,356.7 97.7,359 97.7,358 97.8,361.6 97.8,363.8 97.9,364.7 97.9,362.9 98,367.5 98,371.2 98.1,371.6 98.1,372.7 98.2,365.3 98.2,372.6 98.3,373 98.3,375.7 98.4,376.9 98.7,377.7 99.1,376.8 99.4,377.1 99.8,376.7 100.1,378.9 100.5,382.3 100.8,385.8 101.2,385.4 101.5,375.1 101.9,390.9 102.2,387.1 102.5,389.3 102.9,386.4 103.2,391.6 103.6,387.3 103.9,394.5 104.3,392.1 104.6,397.5 105,397.8 105.3,395.7 105.7,393.9 106,398.8 106.4,396.3 106.7,395.9 107.1,395.4 107.4,392.2 107.8,398.1 108.1,392.7 108.5,385.3 108.8,391.3 109.2,382.3 109.6,388.7 109.9,390.3 110.3,386.2 110.6,386 111,382.6 111.3,382.1 111.7,386.3 112,380.8 112.4,376.9 112.5,378.1 112.7,376.4 112.8,381.2 113,375.4 113.1,370 113.3,374.4 113.4,374.9 113.6,371.5 113.7,373 113.9,364.9 114,368.9 114.2,366.8 114.3,367.5 114.5,363.5 114.6,364.5 114.7,359.6 114.8,358.5 114.8,361.3 114.9,360.3 115,356.4 115.1,356.1 115.2,355.8 115.3,347.9 115.3,353 115.4,350.8 115.5,346.7 115.6,349.1 115.7,350.5 115.7,346 115.8,344.2 115.9,344 116,343.4 116.1,344.2 116.1,340.2 116.2,342.4 116.3,340.3 116.4,335.9 116.5,335.8 116.6,339.2 116.6,336.6 116.7,337.2 116.8,331.5 116.9,327 117,330.1 117,329.8 117.1,325.7 117.2,328.9 117.3,324.7 117.4,325.2 117.5,323.4 117.5,325.4 117.6,323.4 117.7,316.2 117.8,318.5 117.9,318.7 117.9,319 118,310.2 118.1,311.5 118.2,312.1 118.3,311.9 118.3,314.1 118.4,307.7 118.5,306.6 118.6,306.8 118.7,308.1 118.8,308.3 118.8,303.5 118.9,307.3 119,300.4 119.1,302.4 119.2,299.9 119.2,307.8 119.3,305.8 119.4,308 119.5,311.9 119.6,311.5 119.6,310.6 119.7,315.2 119.8,312.3 119.9,312.7 120,312 120.1,319.9 120.1,321 120.2,323.6 120.3,323.6 120.4,320.2 120.5,322.9 120.5,325.4 120.6,327.7 120.7,324.6 120.8,328.8 120.9,327.2 120.9,328.2 121,332.7 121.1,328.5 121.2,333.9 121.3,327.3 121.4,332.7 121.4,330.1 121.5,340.2 121.6,339.7 121.7,341.6 121.8,345 121.8,344.8 121.9,338.5 122,340.8 122.1,342.3 122.3,346.8 122.4,348.1 122.5,348.7 122.6,349.5 122.8,352.3 122.9,345.3 123,353.5 123.1,356.2 123.3,352.2 123.4,358.6 123.5,358.4 123.6,356.8 123.8,361.8 123.9,364.5 124,358.3 124.1,363.2 124.3,363.8 124.4,360.1 124.5,366.6 124.6,366.1 124.8,365.3 124.9,369.8 125,371.3 125.1,367.7 125.3,372.7 125.4,377.6 126,371.5 126.6,377.2 127.1,377.1 127.7,375.9 128.3,380.5 128.9,379.2 129.5,381.4 130.1,382.8 130.6,381.2 131.2,386.5 131.8,380.5 132.3,381 132.9,388.8 133.4,390 133.9,391.9 134.4,390.3 134.9,388.6 135.5,392.4 136,391.7 136.1,392.5 136.3,393.4 136.4,393.5 136.5,389 136.6,387.3 136.8,390.2 136.9,385.9 137,382.7 137.1,387.3 137.3,384 137.4,377.9 137.5,376.1 137.6,378.3 137.8,379.4 137.9,378.1 138,375.8 138.1,376.5 138.3,375 138.4,372.3 138.5,370.9 138.6,369.3 138.8,365.6 138.9,368.2 139,363.5 139.1,368.8 139.3,362.2 139.4,361 139.5,367 139.6,365.8 139.8,369.5 139.9,368.2 140,371.5 140.1,371.4 140.2,372 140.3,369.4 140.5,370.9 140.6,376.8 140.7,375.2 140.8,375.2 140.9,374.1 141.1,376.8 141.2,378.2 141.3,376.9 141.4,384.5 141.5,381 141.7,385.9 141.8,382.6 141.9,385.8 142,388.6 142.1,389.9 142.2,387.8 142.4,391.3 142.5,387.7 142.6,392.7 143,393.2 143.3,394.8 143.7,399.6 144.1,399.3 144.4,394.2 144.8,396.4 145.2,402.5 145.5,401.1 145.9,402.1 146.3,406.3 146.6,400.7 147,405.5 148.1,403.5 149.1,406.5 150.2,413.3 151.3,407.3 152.3,409.4 153.4,408.8 154.5,409.7 155.6,407.5 156.6,410.7 157.7,409.9 158.8,412.4 159.8,408.3 160.9,415.5 162,410.1 163.1,413.1 164.1,414 165.2,415.5 166.3,412.8 167.3,415.8 168.4,414.7 169.3,409.7 170.2,410 171.1,412 172,409.9 172.9,405.8 173.8,409.8 174.7,410.4 175.6,410.4 176.5,411.9 177.4,403.4 178.3,405.4 179.2,409.4 179.5,403.7 179.7,399 180,399.8 180.3,404.1 180.5,401.1 180.8,397.1 181.1,399 181.3,396.1 181.6,392.2 181.9,393.6 182.2,387.1 182.4,384.6 182.7,396.5 183,385.4 183.2,392.9 183.5,388.6 183.6,388 183.7,391.1 183.8,383.6 183.9,383.1 184,386.7 184.1,383.8 184.2,381.6 184.3,379.6 184.4,374 184.5,375.2 184.6,375.1 184.7,374.2 184.8,365.8 184.8,366.2 184.9,373.2 185,372.2 185.1,367.7 185.2,367.9 185.3,359.9 185.4,366.7 185.5,365.2 185.6,364.8 185.7,362 185.8,363.1 185.9,357.4 186,361.4 186.1,361.3 186.2,356.7 186.3,363 186.5,363.7 186.6,369.7 186.7,369.2 186.8,365 186.9,370.8 187,366.2 187.2,373.9 187.3,373.9 187.4,373.3 187.5,369.6 187.6,378.3 187.7,375.4 187.8,375.5 188,379 188.1,377 188.2,382.5 188.3,380.2 188.4,382.7 188.5,386.8 188.7,385.9 188.8,386.7 188.9,387.7 189,386.6 189.5,386.5 190,392.6 190.5,393.9 191,392.3 191.5,396.4 192,393.3 192.5,394.9 192.9,400.1 193.4,393.8 193.9,405.9 194.4,399.6 194.9,401.4 195.4,403.3 195.9,404.1 196.4,408.1 197.3,403.9 198.2,405.5 199.2,403.1 200.1,411.9 201,402.8 201.9,406.2 202.9,409.1 203.8,410.2 204.7,411.6 205.6,412.9 206.5,411.2 207.5,414.3 208.4,412 209.3,412.5 210.3,408.5 211.3,412.5 212.2,412.1 213.2,415 214.2,415.5 215.2,411.2 216.1,415.4 217.1,412 218.1,416.1 219.1,414.9 220,419.9 221,417.4 222,420.4 222.7,419 223.4,421.3 224.1,420.4 224.8,419.8 225.5,421.4 226.2,413.8 226.9,413 227.6,413.8 228.2,412.9 228.9,407.7 229.6,407 230.3,412.5 231,405.7 231.7,405.5 232.4,410.2 233.1,404.4 233.8,404.1 234.3,404.3 234.8,404.2 235.4,407.7 235.9,407.1 236.4,412.4 236.9,408.2 237.5,414 238,409.1 238.5,414 239,409.7 239.6,410.8 240.1,416.1 240.6,422 241.1,416.2 241.5,414.9 242,414.6 242.5,411 242.9,411 243.4,412.6 243.8,410.2 244.3,409 244.8,410.4 245.2,407.7 245.7,409.6 246.3,406.5 246.8,406.9 247.4,406 248,411.1 248.5,410.1 249.1,413.3 249.7,408.5 250.2,410.4 250.8,415.1 251.4,413.1 251.9,415.3 252.5,419.2 252.9,420.3 253.3,416.2 253.7,413.8 254.1,412.4 254.5,415.5 254.9,414.6 255.3,408.8 255.7,407.1 256.1,410.6 256.5,407.6 257,407.5 257.4,406.1 257.8,403.6 258.2,403.4 258.6,405.6 259,399.3 259.4,400.1 259.8,394.5 260.2,399.3 260.6,396.4 261,394.6 261.3,390.7 261.7,399.6 262,399.4 262.3,398.3 262.7,399.2 263,402.8 263.3,403.1 263.7,404.7 264,401.6 264.4,402.2 264.7,408.4 265,409.5 265.4,411.1 265.7,412.3 266,407.7 266.4,414.1 266.7,412.2 267,406.8 267.4,418.5 267.7,412 268.3,416.9 268.8,412.4 269.4,417.4 270,414.3 270.5,413.3 271.1,410.7 271.7,414.7 272.2,412.3 272.8,408.4 273.4,405.8 273.9,408.3 274.5,403.1 274.7,405.7 275,401.8 275.2,399.8 275.4,399.9 275.7,393 275.9,400.7 276.2,397.2 276.4,395.4 276.6,400.8 276.9,392.9 277.1,392.3 277.3,393.6 277.6,393.3 277.8,392 278,391.4 278.3,386.1 278.5,386.2 278.7,382.3 279,384.7 279.2,383.3 279.5,389.8 279.7,379.3 279.9,376.7 280.2,378.5 280.4,375.6 280.6,378.9 280.8,381.1 281,378.5 281.2,382.4 281.4,387.7 281.6,387.2 281.8,385.7 282,386.7 282.2,389.5 282.4,389.8 282.6,396.6 282.8,391 283,393.3 283.2,398.9 283.5,391.8 283.7,396 283.9,399.1 284.1,399.1 284.3,401.9 284.5,405.7 284.7,398.2 284.9,401.3 285.1,401.6 285.3,397.5 285.5,407.3 285.7,410.8 285.9,410.7 286.1,406.2 286.3,406.6 286.9,411 287.5,413.2 288.1,416.1 288.7,413.5 289.3,419.5 290,416 290.6,415.8 291.2,418.2 291.8,420.4 292.4,421.1 293,422.9 294.1,416.7 295.3,422.8 296.4,426 297.5,420.4 298.7,421.4 299.8,425.1 300.9,426.9 302.1,418.5 303.2,422.6 304.3,422.3 305.5,421.7 306.6,423 307.7,425.5 308.9,421.5 310,420.6 310.5,416.1 311,417.9 311.6,418.1 312.1,416.3 312.6,420 313.1,416.4 313.6,415.2 314.1,401.4 314.6,416 315.2,410.5 315.7,408.5 316.2,408.4 316.7,406.7 317.2,407.1 317.8,404.9 318.3,400.9 318.8,402.8 319.3,403.5 319.8,402.5 320.4,405.4 320.9,403.9 321.4,410.3 322,405.6 322.5,412.5 323.1,410.6 323.6,412.5 324.1,413.7 324.7,414.9 325.2,412.8 325.9,413.5 326.6,415.7 327.2,413.4 327.9,412 328.6,411.8 329.3,406.3 330,409.8 330.6,407 331.3,406.1 332,409 332.7,404.4 333.4,403 334,404.6 334.7,398.3 335.4,397.1 336.1,398.3 336.8,402.3 337.4,407.3 338.1,407.6 338.8,407.1 339.5,406.1 340.2,406.9 340.8,404.4 341.5,410 342.2,412.9 342.5,412.6 342.8,412.1 343.1,412 343.4,412 343.8,414.9 344.1,416.1 344.4,417.6 344.7,421.9 345,420 345.3,422.4 345.6,420.9 345.9,425 346.3,425.1 346.6,421.8 346.9,429.9 347.2,428.6 347.4,427.1 347.6,428.6 347.8,424.4 348.1,420.8 348.3,422.2 348.5,420.5 348.7,417.6 348.9,417.3 349.1,416.2 349.3,417.2 349.5,416 349.8,416.3 350,415.7 350.2,412.4 350.4,410 350.6,409.9 350.8,409.4 351,407.3 351.2,404.6 351.4,404.6 351.7,407.9 351.9,405.3 352.1,401.9 352.3,403.4 352.4,399.6 352.5,396 352.6,397.2 352.7,398.1 352.8,398 352.9,396.5 353,393.8 353.1,393.3 353.2,390.3 353.3,385.5 353.4,389.8 353.5,391.6 353.6,386.9 353.6,385.6 353.7,383.4 353.8,379.4 353.9,381.8 354,382.2 354.1,379.2 354.2,380.5 354.3,378.3 354.4,375.8 354.5,371.7 354.6,376.5 354.7,373.9 354.8,373.3 354.9,371.3 355.1,370.2 355.2,381.2 355.3,380.5 355.5,379.6 355.6,374.5 355.7,378 355.9,379.3 356,384 356.1,387 356.2,382.5 356.4,388.5 356.5,388.3 356.6,384.8 356.8,388.9 356.9,386.7 357,393.9 357.2,386.8 357.3,387.4 357.4,396 357.6,395.9 357.7,398.4 357.8,398.8 357.9,403.6 358.1,398.9 358.2,399.4 358.3,398.7 358.5,403.1 358.6,406 358.7,404.5 358.9,406.8 359,404 359.5,406.7 360,410.6 360.5,410.2 361,409.9 361.5,412.9 362,414.5 362.5,416.2 363,419.3 363.5,409 364,418 365.2,419.2 366.4,422.2 367.6,419.9 368.8,419.2 370,417.2 371.2,412.3 372.4,416.7 373.6,419.4 374.8,417.5 376,415.4 376.3,422.8 376.6,414.9 376.9,414.8 377.2,412.3 377.5,410.6 377.9,417 378.2,412.5 378.5,410.4 378.8,411.8 379.1,405 379.4,400.6 379.7,400.7 380,405.5 380.3,401.4 380.6,401.1 380.9,403.5 381.3,398.9 381.6,395.9 381.9,398 382.2,399.3 382.5,396.1 382.8,393.3 382.9,393.6 383,393.6 383.1,392.5 383.2,389.1 383.3,386.1 383.4,390.4 383.5,384.8 383.6,384.3 383.7,385.1 383.8,381.8 383.9,378.9 383.9,379.6 384,374.9 384.1,380.1 384.2,376.6 384.3,378.7 384.4,375.6 384.5,376.8 384.6,368.9 384.7,372.4 384.8,366.2 384.9,369.6 385,361.2 385.1,369.7 385.2,368.5 385.3,367.1 385.4,367.2 385.5,362.6 385.6,361.7 385.7,360.5 385.8,359.7 385.9,351.7 385.9,356.7 386,352.3 386.1,355.7 386.2,351.7 386.3,357.8 386.4,350.6 386.5,352.6 386.6,354 386.7,342.1 386.8,348.7 386.9,349.7 387,347.9 387.1,345.5 387.2,341.4 387.3,350.3 387.4,352.3 387.5,351.5 387.6,348.4 387.7,356.1 387.8,354.3 387.9,353.4 388,354.3 388.1,360.1 388.1,355.2 388.2,359.2 388.3,357.7 388.4,365.3 388.5,366.4 388.6,366 388.7,364.1 388.8,368.9 388.9,366.6 389,369.7 389.1,364.2 389.2,369.8 389.3,375.8 389.4,375.2 389.5,372.7 389.6,375.1 389.7,371.8 389.8,377.9 389.9,376.9 390,378.1 390.1,381.2 390.1,379.3 390.2,381.4 390.3,382.7 390.4,387.7 390.5,385.6 390.6,386.7 390.7,388.2 390.8,393.2 390.9,390.4 391,395.6 391.1,395.4 391.2,395.2 391.4,388.2 391.6,391.2 391.8,388.4 392,385.4 392.2,391.2 392.4,386.5 392.6,391.1 392.8,381.3 393,382.1 393.2,381.4 393.4,383.4 393.6,379.9 393.9,379.7 394.1,378.1 394.3,376.3 394.5,372.2 394.7,374.7 394.9,367.2 395.1,372.5 395.3,371.4 395.5,367.9 395.7,372.3 395.9,369.6 396.1,366 396.3,369.2 396.5,368.1 396.6,365.3 396.8,370 396.9,370.6 397.1,372.6 397.2,375.6 397.4,374.2 397.5,375.2 397.7,371.9 397.8,376.9 398,380.9 398.2,377.5 398.3,377.3 398.5,383.7 398.6,378.7 398.8,381.2 398.9,385.8 399.1,384.4 399.2,385.7 399.4,387.4 399.5,391 399.7,391.9 399.9,393.1 400,391.4 400.2,395.1 400.3,396 400.5,397.8 400.6,397.3 400.8,397.4 400.9,405.5 401.1,398.6 401.2,403.4 401.4,404.9 401.8,401.6 402.2,408 402.5,404.8 402.9,405.1 403.3,411.1 403.7,412 404,410.3 404.4,411 404.8,414.5 405.1,414.1 405.4,409 405.7,409.1 406,407.9 406.3,407.4 406.6,406.1 406.9,404.9 407.2,401.9 407.5,406.9 407.8,400.9 408.1,399.1 408.5,400.9 408.8,395.9 409.1,399.7 409.4,402.5 409.7,393.6 410,390 410.3,392.2 410.6,391.4 410.9,388.5 411.2,391.3 411.5,388.9 411.9,390.3 412.4,389 412.8,392.5 413.2,392.1 413.6,391.8 414.1,393.8 414.5,395.2 414.9,397.7 415.3,400.3 415.8,402.7 416.2,397.6 416.6,398 417,401.5 417.4,399.8 417.9,399.9 418.3,409.2 418.7,407.7 419,403.9 419.4,402.4 419.8,403.2 420.2,397.2 420.5,399 420.9,397.1 421.3,396.1 421.7,396.5 422,395.7 422.4,398.2 422.8,397.5 423.2,390.2 423.5,390 423.9,388.1 424.3,388.8 424.7,386.3 425,388 425.4,387.5 426,386.9 426.6,386.7 427.2,391.3 427.7,390 428.3,389.9 428.9,390.4 429.5,389.8 430.1,390.7 430.7,400.1 431.2,397.6 431.8,397.8 432.4,401.8 433,399.6 434.1,400 435.2,392.9 436.3,396.2 437.5,393.4 438.6,400.5 439.7,393.5 440.8,394.8 441.8,398.9 442.7,388.7 443.7,391.5 444.6,394.9 445.6,390 446.6,390.2 447.5,393.2 448.5,390.7 449,393.1 449.6,390.9 450.1,392.5 450.6,395.4 451.2,396.1 451.7,398.8 452.2,393.6 452.8,398.1 453.3,395.6 453.9,401.2 454.4,401.3 454.9,401.4 455.5,406.6 456,404.1 456.9,403.6 457.7,398.9 458.6,396.2 459.5,399.1 460.3,398.7 461.2,401.3 462.1,397.7 462.9,399.6 463.8,393 464.1,398.4 464.4,402.9 464.7,404.9 465.1,403.9 465.4,406.4 465.7,402.6 466,404.3 466.3,409.4 466.6,409.6 466.9,408.6 467.2,407 467.6,410 467.9,414.2 468.2,416.5 468.5,415.5 469.7,417.7 470.9,415.2 472.1,413.5 473.3,416.8 474.4,415.7 475.6,417.6 476.8,414.3 478,411.7 479.2,416.4 480.3,415.8 481.4,408.3 482.5,417.8 483.7,412.5 484.8,412.4 485.9,413 487,415.8 488,409.5 489,413 490.1,414.2 491.1,414.7 492.1,417.8 493.1,415.6 494.1,420.1 495.2,407.1 496.2,418.1 497.2,419.4 498.2,417 499.2,418.9 500.3,419.6 501.3,423.7 502.3,421.1 503.4,423.8 504.5,421.2 505.6,420.8 506.7,422.4 507.8,419.8 508.9,420.3 510,418.8 511.1,420.6 512.2,413.7 513.3,421.7 514.4,424.6 515.5,420.5 516.6,422.3 517.7,416.9 518.6,411.8 519.5,419.8 520.4,417.4 521.4,415.1 522.3,414.3 523.2,409.6 524.1,417.3 525,418.6 525.9,407.2 526.9,406.4 527.8,414.8 528.7,408.1 529.6,410.1 530.5,409.3 531.4,410.2 532.3,407 533.3,405.8 534.2,408.1 535.1,405.1 536,405.9 537,406.1 537.9,407.6 538.9,404.3 539.8,405.9 540.8,413.1 541.8,409 542.7,410.8 543.7,408.3 544.7,410.1 545.6,412.8 546.6,412.5 547.5,410.9 548.5,421.6 549.6,414 550.7,407.5 551.8,413.7 552.9,410.5 554,414.5 555.1,409.1 556.1,407.6 557.2,405 558.3,405.8 559.4,406.7 560.5,409.5 561.6,409.1 562.7,404.6 563.8,408.1 564.8,410.6 565.9,406.3 566.9,407.2 567.9,404.7 568.9,405.5 570,405.9 571,401.7 572,403.9 573,400.4 574.1,404.8 575.1,402.3 576.1,403.2 577.2,402.2 578.2,402.2 579.2,399.7 580.2,401.5 581.3,399.5 582.3,399.6 583.4,401.8 584.5,400.2 585.7,400.1 586.8,396.9 587.9,397.2 589,401.1 590.1,401.1 591.2,400.5 592.4,395.4 593.5,393.8 594.6,400.9 595.4,403.9 596.2,397.1 597,399.4 597.8,405.1 598.7,402.2 599.5,405.3 600.3,406.4 601.1,405.9 601.9,407.6 602.7,403.8 603.5,407.3 604.3,405.7 605.1,411.1 605.9,404.9 606.8,410.8 607.6,410.2 608.4,405.2 609.2,415.7 610,412.6 611.1,415.8 612.2,413.8 613.3,411.1 614.4,410.2 615.5,414.1 616.6,414.8 617.7,416.9 618.8,417.2 619.9,416.2 621,417.5 622.1,415.3 623.2,417.1 624.3,415 625.4,420.5 626.6,417 627.8,415.4 628.9,409.4 630.1,418.8 631.3,417.7 632.5,421.8 633.6,416.2 634.8,420.7 636,417.4" fill="none" stroke="#22a6da" stroke-width="3.8" stroke-linejoin="round" stroke-linecap="round"/>
<rect x="54.3" y="13" width="583.7" height="502" fill="none" stroke="#000" stroke-width="4.3"/>
<line x1="54" y1="260" x2="638" y2="260" stroke="#000" stroke-width="4.6"/>
<line x1="137.8" y1="503" x2="137.8" y2="514" stroke="#000" stroke-width="3.8"/>
<line x1="304.6" y1="503" x2="304.6" y2="514" stroke="#000" stroke-width="3.8"/>
<line x1="471.6" y1="503" x2="471.6" y2="514" stroke="#000" stroke-width="3.8"/>
<text transform="translate(97.5 55.6) rotate(-90)" x="-36.2 -25.9 -8.6 8.6 25.9" y="0" font-family='"Liberation Sans", Arial, sans-serif' font-size="31" fill="#b82e3c">(111)</text>
<text transform="translate(207 93) rotate(-90)" x="-36.2 -25.9 -8.6 8.6 25.9" y="0" font-family='"Liberation Sans", Arial, sans-serif' font-size="31" fill="#b82e3c">(200)</text>
<text transform="translate(447 74.9) rotate(-90)" x="-36.2 -25.9 -8.6 8.6 25.9" y="0" font-family='"Liberation Sans", Arial, sans-serif' font-size="31" fill="#b82e3c">(220)</text>
<text transform="translate(595.6 89) rotate(-90)" x="-36.2 -25.9 -8.6 8.6 25.9" y="0" font-family='"Liberation Sans", Arial, sans-serif' font-size="31" fill="#b82e3c">(311)</text>
<text transform="translate(84 325) rotate(-90)" x="-36.2 -25.9 -8.6 8.6 25.9" y="0" font-family='"Liberation Sans", Arial, sans-serif' font-size="31" fill="#1f8bbd">(012)</text>
<text transform="translate(151 323.5) rotate(-90)" x="-36.2 -25.9 -8.6 8.6 25.9" y="0" font-family='"Liberation Sans", Arial, sans-serif' font-size="31" fill="#1f8bbd">(121)</text>
<text transform="translate(180 336) rotate(-90)" x="-36.2 -25.9 -8.6 8.6 25.9" y="0" font-family='"Liberation Sans", Arial, sans-serif' font-size="31" fill="#1f8bbd">(022)</text>
<text transform="translate(215 344.5) rotate(-90)" x="-36.2 -25.9 -8.6 8.6 25.9" y="0" font-family='"Liberation Sans", Arial, sans-serif' font-size="31" fill="#1f8bbd">(031)</text>
<text transform="translate(245 340.5) rotate(-90)" x="-36.2 -25.9 -8.6 8.6 25.9" y="0" font-family='"Liberation Sans", Arial, sans-serif' font-size="31" fill="#1f8bbd">(200)</text>
<text transform="translate(273 340.5) rotate(-90)" x="-36.2 -25.9 -8.6 8.6 25.9" y="0" font-family='"Liberation Sans", Arial, sans-serif' font-size="31" fill="#1f8bbd">(122)</text>
<text transform="translate(300 340.5) rotate(-90)" x="-36.2 -25.9 -8.6 8.6 25.9" y="0" font-family='"Liberation Sans", Arial, sans-serif' font-size="31" fill="#1f8bbd">(131)</text>
<text transform="translate(363 325.2) rotate(-90)" x="-36.2 -25.9 -8.6 8.6 25.9" y="0" font-family='"Liberation Sans", Arial, sans-serif' font-size="31" fill="#1f8bbd">(221)</text>
<text transform="translate(399.2 301.5) rotate(-90)" x="-36.2 -25.9 -8.6 8.6 25.9" y="0" font-family='"Liberation Sans", Arial, sans-serif' font-size="31" fill="#1f8bbd">(212)</text>
<text transform="translate(426 337.5) rotate(-90)" x="-36.2 -25.9 -8.6 8.6 25.9" y="0" font-family='"Liberation Sans", Arial, sans-serif' font-size="31" fill="#1f8bbd">(123)</text>
<text transform="translate(460.6 340.8) rotate(-90)" x="-36.2 -25.9 -8.6 8.6 25.9" y="0" font-family='"Liberation Sans", Arial, sans-serif' font-size="31" fill="#1f8bbd">(033)</text>
<text x="303" y="215.6" font-family='"Liberation Sans", Arial, sans-serif' font-size="31" fill="#b82e3c">CeO<tspan font-size="18.5" dy="4.5">2</tspan><tspan dy="-4.5"> JCPDF#34-0394</tspan></text>
<text x="246" y="456.6" letter-spacing="0.13" font-family='"Liberation Sans", Arial, sans-serif' font-size="31" fill="#1f8bbd">CeCO<tspan font-size="18.5" dy="4.5">3</tspan><tspan dy="-4.5">OH JCPDF#41-0013</tspan></text>
<text x="135.8" y="548.6" text-anchor="middle" font-family='"Liberation Sans", Arial, sans-serif' font-size="30">30</text>
<text x="302" y="548.6" text-anchor="middle" font-family='"Liberation Sans", Arial, sans-serif' font-size="30">40</text>
<text x="469" y="548.6" text-anchor="middle" font-family='"Liberation Sans", Arial, sans-serif' font-size="30">50</text>
<text x="636.4" y="548.6" text-anchor="middle" font-family='"Liberation Sans", Arial, sans-serif' font-size="30">60</text>
<text x="332" y="588" text-anchor="middle" letter-spacing="1.3" font-family='"Liberation Sans", Arial, sans-serif' font-size="29">2<tspan font-style="italic">&#952;</tspan>/(&#176;)</text>
<text x="339" y="638" text-anchor="middle" letter-spacing="2.2" font-family='"Liberation Sans", Arial, sans-serif' font-size="29">(a)</text>
<text transform="translate(31.5 283.2) rotate(-90)" text-anchor="middle" letter-spacing="4.1" font-family='"Noto Serif CJK SC", "Liberation Serif", serif' font-size="28.5" font-weight="400">相对强度</text>
<line x1="982.7" y1="84.6" x2="982.7" y2="395" stroke="#b0185a" stroke-width="4" stroke-dasharray="8 8.9"/>
<line x1="1323.8" y1="87.7" x2="1323.8" y2="418" stroke="#2d5048" stroke-width="3.8" stroke-dasharray="8 8.9"/>
<path d="M875,109.1 C881.8,109 907.1,108.5 916,108.3 C924.9,108 923.6,107.3 928.2,107.6 C932.8,107.9 938,108.8 943.6,110 C949.2,111.2 955.9,113.4 962,114.5 C968.1,115.6 970.1,116.3 980.3,116.5 C990.5,116.7 1010.7,116 1023,115.5 C1035.3,115 1041.2,114.2 1054,113.7 C1066.8,113.2 1089,112.9 1100,112.3 C1111,111.7 1110,110.7 1120,110.3 C1130,109.9 1145.5,109.9 1160,109.7 C1174.5,109.5 1192.2,109.2 1206.7,109 C1221.2,108.8 1234.9,108.4 1246.7,108.3 C1258.5,108.2 1270.6,107.7 1277.3,108.3 C1284,108.9 1282.8,109.4 1286.7,111.7 C1290.7,114 1296.8,119.5 1301,121.9 C1305.2,124.3 1307.8,126.1 1311.9,126 C1316,125.9 1321.1,121 1325.5,121.2 C1329.9,121.4 1334.8,127.6 1338.5,127.3 C1342.2,127 1344.3,122 1347.4,119.2 C1350.5,116.4 1352.5,112.3 1357,110.3 C1361.5,108.2 1369,107 1374.7,106.9 C1380.4,106.8 1385.8,109.6 1391,109.6 C1396.2,109.6 1401.2,107.2 1406,106.9 C1410.8,106.6 1416.1,106.8 1419.8,107.5 C1423.5,108.2 1425,111 1428,111 C1431,111 1433.2,108.2 1437.5,107.5 C1441.8,106.8 1450.3,106.6 1454,106.9 C1457.7,107.2 1457.1,110.1 1459.4,109.6 C1461.7,109.1 1464.4,103.6 1467.6,104.1 C1470.8,104.5 1475.3,110.4 1478.5,112.3 C1481.7,114.2 1485.6,115.1 1487,115.7" fill="none" stroke="#e8141c" stroke-width="5.5" stroke-linejoin="round" stroke-linecap="round"/>
<path d="M875,201 C879.8,201.2 896.2,201.7 903.8,202 C911.4,202.3 916.6,201.6 920.8,203 C925,204.4 927,205.9 929.2,210.5 C931.5,215.1 932.6,222.4 934.3,230.8 C936,239.2 937.7,251.6 939.4,261.2 C941.1,270.8 942.2,278.7 944.5,288.3 C946.8,297.9 950.1,310.2 952.9,318.7 C955.7,327.1 958.3,332.8 961.4,339 C964.5,345.2 968.1,351.6 971.5,356 C974.9,360.4 978.3,364.8 981.7,365.4 C985.1,366 987.8,361 991.8,359.4 C995.8,357.8 1001.4,357.7 1005.4,356 C1009.4,354.3 1011.6,354.3 1015.5,349.2 C1019.4,344.1 1024.5,332.8 1029,325.5 C1033.5,318.2 1038.1,312 1042.6,305.2 C1047.1,298.4 1051.6,291.1 1056.1,284.9 C1060.6,278.7 1066,273.2 1069.7,268 C1073.4,262.8 1074,258.9 1078.5,253.8 C1083,248.7 1089.9,242.9 1097,237.2 C1104.1,231.5 1114.5,222.3 1121,219.7 C1127.5,217.1 1131.1,221.9 1135.7,221.5 C1140.3,221.1 1143.4,217.9 1148.6,217 C1153.8,216.1 1160.2,217.2 1167,216 C1173.8,214.8 1180.3,211.2 1189.2,209.5 C1198.1,207.8 1212.9,207.2 1220.6,205.8 C1228.3,204.4 1229.6,202.4 1235.4,201.2 C1241.2,200 1250.5,198.7 1255.7,198.5 C1260.9,198.3 1264.1,200.2 1266.8,200.3 C1269.5,200.4 1270.2,197.4 1272,199.2 C1273.8,200.9 1276.2,204.6 1277.7,210.8 C1279.2,217 1280.1,226.2 1281.2,236.2 C1282.3,246.2 1283.6,260 1284.6,270.8 C1285.6,281.6 1286.2,292 1287,300.8 C1287.8,309.6 1288.6,318.5 1289.2,323.9 C1289.8,329.3 1289.6,336.1 1290.4,333 C1291.2,329.9 1292.7,316.5 1293.8,305.4 C1294.9,294.3 1295.9,278.1 1297.3,266.2 C1298.7,254.3 1300.6,240.7 1301.9,233.8 C1303.2,226.9 1304.1,222.7 1305.4,224.6 C1306.8,226.5 1308.7,236.6 1310,245.4 C1311.3,254.2 1312.3,266.6 1313.5,277.7 C1314.7,288.8 1316,299.5 1317,312.3 C1318,325.1 1318.6,343.3 1319.6,354.6 C1320.6,365.9 1322,373.1 1323,380 C1324,386.9 1324.2,396.8 1325.4,396 C1326.6,395.2 1328.7,380.4 1330,375.4 C1331.3,370.4 1332.3,364.5 1333.5,366 C1334.7,367.5 1335.7,376.1 1337,384.6 C1338.3,393.1 1340,407.4 1341.5,417 C1343,426.6 1344.8,436.4 1346,442.3 C1347.2,448.2 1347.5,453.9 1348.5,452.7 C1349.5,451.5 1351,446 1352,435.4 C1353,424.8 1353.5,403.4 1354.2,389.2 C1355,375 1355.5,361.5 1356.5,350 C1357.5,338.5 1358.9,333.2 1360,320 C1361.1,306.8 1361.8,283.4 1363,270.5 C1364.2,257.6 1365.8,248.4 1367.2,242.5 C1368.6,236.6 1370,235.4 1371.5,235 C1373,234.6 1374.3,238 1375.9,240.3 C1377.5,242.6 1379.2,248.3 1381.2,249 C1383.2,249.7 1385.9,241.8 1387.7,244.6 C1389.5,247.4 1390.9,257.7 1392,266 C1393.1,274.3 1393.5,294.2 1394.2,294.2 C1394.9,294.2 1395.6,274.3 1396.3,266 C1397,257.7 1397.6,252.5 1398.5,244.6 C1399.4,236.7 1400.5,225.6 1401.7,218.8 C1403,212 1403.8,207.1 1406,203.7 C1408.2,200.3 1411.7,198.7 1414.6,198.3 C1417.5,197.9 1420.8,200.1 1423.3,201.5 C1425.8,202.9 1428.3,204.1 1429.7,207 C1431.1,209.9 1431.2,210.7 1431.9,218.8 C1432.6,226.9 1432.9,254 1433.6,255.4 C1434.3,256.8 1435,234 1436.2,227.4 C1437.4,220.8 1439.2,216.7 1440.5,215.6 C1441.8,214.5 1442.8,217.6 1443.7,221 C1444.6,224.4 1445,237.4 1445.9,236 C1446.8,234.6 1447.5,218.8 1449.1,212.3 C1450.7,205.8 1453.1,199.3 1455.6,197.2 C1458.1,195 1460.6,198.1 1464.2,199.4 C1467.8,200.7 1473.3,201.6 1477.1,204.8 C1480.9,208 1485.3,216.5 1487,218.8" fill="none" stroke="#36ace4" stroke-width="5.4" stroke-linejoin="round" stroke-linecap="round"/>
<path d="M875,201 C879.8,201.2 896.2,201.7 903.8,202 C911.4,202.3 916.6,201.6 920.8,203 C925,204.4 927,205.9 929.2,210.5 C931.5,215.1 932.6,222.4 934.3,230.8 C936,239.2 937.7,251.6 939.4,261.2 C941.1,270.8 942.2,278.7 944.5,288.3 C946.8,297.9 950.1,310.2 952.9,318.7 C955.7,327.1 958.3,332.8 961.4,339 C964.5,345.2 968.1,351.6 971.5,356 C974.9,360.4 978.3,364.8 981.7,365.4 C985.1,366 987.8,361 991.8,359.4 C995.8,357.8 1001.4,357.7 1005.4,356 C1009.4,354.3 1011.6,354.3 1015.5,349.2 C1019.4,344.1 1024.5,332.8 1029,325.5 C1033.5,318.2 1038.1,312 1042.6,305.2 C1047.1,298.4 1051.6,291.1 1056.1,284.9 C1060.6,278.7 1066,273.2 1069.7,268 C1073.4,262.8 1074,258.9 1078.5,253.8 C1083,248.7 1089.9,242.9 1097,237.2 C1104.1,231.5 1114.5,222.3 1121,219.7 C1127.5,217.1 1131.1,221.9 1135.7,221.5 C1140.3,221.1 1143.4,217.9 1148.6,217 C1153.8,216.1 1160.2,217.2 1167,216 C1173.8,214.8 1180.3,211.2 1189.2,209.5 C1198.1,207.8 1212.9,207.2 1220.6,205.8 C1228.3,204.4 1229.6,202.4 1235.4,201.2 C1241.2,200 1250.5,198.7 1255.7,198.5 C1260.9,198.3 1264.1,200.2 1266.8,200.3 C1269.5,200.4 1270.2,197.4 1272,199.2 C1273.8,200.9 1276.2,204.6 1277.7,210.8 C1279.2,217 1280.1,226.2 1281.2,236.2 C1282.3,246.2 1283.6,260 1284.6,270.8 C1285.6,281.6 1286.2,292 1287,300.8 C1287.8,309.6 1288.6,318.5 1289.2,323.9 C1289.8,329.3 1289.6,336.1 1290.4,333 C1291.2,329.9 1292.7,316.5 1293.8,305.4 C1294.9,294.3 1295.9,278.1 1297.3,266.2 C1298.7,254.3 1300.6,240.7 1301.9,233.8 C1303.2,226.9 1304.1,222.7 1305.4,224.6 C1306.8,226.5 1308.7,236.6 1310,245.4 C1311.3,254.2 1312.3,266.6 1313.5,277.7 C1314.7,288.8 1316,299.5 1317,312.3 C1318,325.1 1318.6,343.3 1319.6,354.6 C1320.6,365.9 1322,373.1 1323,380 C1324,386.9 1324.2,396.8 1325.4,396 C1326.6,395.2 1328.7,380.4 1330,375.4 C1331.3,370.4 1332.3,364.5 1333.5,366 C1334.7,367.5 1335.7,376.1 1337,384.6 C1338.3,393.1 1340,407.4 1341.5,417 C1343,426.6 1344.8,436.4 1346,442.3 C1347.2,448.2 1347.5,453.9 1348.5,452.7 C1349.5,451.5 1351,446 1352,435.4 C1353,424.8 1353.5,403.4 1354.2,389.2 C1355,375 1355.5,361.5 1356.5,350 C1357.5,338.5 1358.9,333.2 1360,320 C1361.1,306.8 1361.8,283.4 1363,270.5 C1364.2,257.6 1365.8,248.4 1367.2,242.5 C1368.6,236.6 1370,235.4 1371.5,235 C1373,234.6 1374.3,238 1375.9,240.3 C1377.5,242.6 1379.2,248.3 1381.2,249 C1383.2,249.7 1385.9,241.8 1387.7,244.6 C1389.5,247.4 1390.9,257.7 1392,266 C1393.1,274.3 1393.5,294.2 1394.2,294.2 C1394.9,294.2 1395.6,274.3 1396.3,266 C1397,257.7 1397.6,252.5 1398.5,244.6 C1399.4,236.7 1400.5,225.6 1401.7,218.8 C1403,212 1403.8,207.1 1406,203.7 C1408.2,200.3 1411.7,198.7 1414.6,198.3 C1417.5,197.9 1420.8,200.1 1423.3,201.5 C1425.8,202.9 1428.3,204.1 1429.7,207 C1431.1,209.9 1431.2,210.7 1431.9,218.8 C1432.6,226.9 1432.9,254 1433.6,255.4 C1434.3,256.8 1435,234 1436.2,227.4 C1437.4,220.8 1439.2,216.7 1440.5,215.6 C1441.8,214.5 1442.8,217.6 1443.7,221 C1444.6,224.4 1445,237.4 1445.9,236 C1446.8,234.6 1447.5,218.8 1449.1,212.3 C1450.7,205.8 1453.1,199.3 1455.6,197.2 C1458.1,195 1460.6,198.1 1464.2,199.4 C1467.8,200.7 1473.3,201.6 1477.1,204.8 C1480.9,208 1485.3,216.5 1487,218.8" fill="none" stroke="#2394c8" stroke-width="3.2" stroke-linejoin="round" stroke-linecap="round"/>
<rect x="873" y="13.5" width="615.5" height="496.5" fill="none" stroke="#000" stroke-width="4.5"/>
<line x1="1048" y1="499" x2="1048" y2="509" stroke="#000" stroke-width="4"/>
<line x1="1225.4" y1="499" x2="1225.4" y2="509" stroke="#000" stroke-width="4"/>
<line x1="1401" y1="499" x2="1401" y2="509" stroke="#000" stroke-width="4"/>
<text x="871" y="545" text-anchor="middle" font-family='"Liberation Sans", Arial, sans-serif' font-size="31">4000</text>
<text x="1049.5" y="545" text-anchor="middle" font-family='"Liberation Sans", Arial, sans-serif' font-size="31">3000</text>
<text x="1227" y="545" text-anchor="middle" font-family='"Liberation Sans", Arial, sans-serif' font-size="31">2000</text>
<text x="1404" y="545" text-anchor="middle" font-family='"Liberation Sans", Arial, sans-serif' font-size="31">1000</text>
<text x="1118" y="591" font-family='"Liberation Sans", Arial, sans-serif' font-size="30"><tspan font-family='"Noto Serif CJK SC", "Liberation Serif", serif' font-weight="300">波长</tspan>/cm<tspan font-size="18" dy="-12">&#8722;1</tspan></text>
<text x="1192.5" y="638" text-anchor="middle" letter-spacing="1.6" font-family='"Liberation Sans", Arial, sans-serif' font-size="29">(b)</text>
<text transform="translate(847 278) rotate(-90)" text-anchor="middle" font-family='"Noto Serif CJK SC", "Liberation Serif", serif' font-size="30" font-weight="300">吸光度</text>
<text x="945.5" y="75.6" font-family='"Liberation Sans", Arial, sans-serif' font-size="31" fill="#e03868">O&#8212;H</text>
<text x="1289" y="75.8" font-family='"Liberation Sans", Arial, sans-serif' font-size="29.5" fill="#30b88a">CO</text><text x="1336" y="81.5" font-family='"Liberation Sans", Arial, sans-serif' font-size="17" fill="#30b88a">3</text><text x="1336.8" y="58.7" font-family='"Liberation Sans", Arial, sans-serif' font-size="17.3" fill="#30b88a">2&#8722;</text>
<text x="1059.3" y="153.5" font-family='"Liberation Sans", Arial, sans-serif' font-size="31" fill="#dc0f18">Co</text><text x="1099" y="158.6" font-family='"Liberation Sans", Arial, sans-serif' font-size="18.3" fill="#dc0f18">0.33</text><text x="1134" y="153.5" font-family='"Liberation Sans", Arial, sans-serif' font-size="31" fill="#dc0f18">-CeO</text><text x="1208.6" y="160" font-family='"Liberation Sans", Arial, sans-serif' font-size="18.3" fill="#dc0f18">2</text>
<text x="1084.5" y="295.4" font-family='"Liberation Sans", Arial, sans-serif' font-size="31" fill="#2a86c0">CeCO<tspan font-size="17.5" dy="5">3</tspan><tspan dy="-5">OH</tspan></text>
</svg>
</body></html>
